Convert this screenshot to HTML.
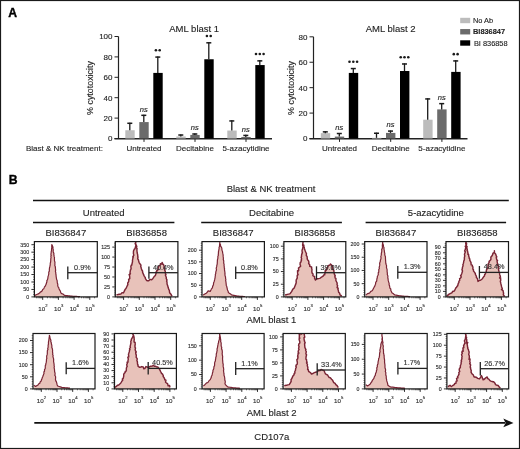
<!DOCTYPE html>
<html><head><meta charset="utf-8"><style>
html,body{margin:0;padding:0;background:#fff;}
svg text{stroke:#1a1a1a;stroke-width:0.12px;paint-order:stroke;}
svg text.sm{stroke-width:0.14px;}
svg text.bd{stroke-width:0.35px;stroke:#000;}
svg{display:block;will-change:transform;font-family:"Liberation Sans", sans-serif;}
</style></head><body>
<svg width="520" stroke-linecap="butt" height="449" viewBox="0 0 520 449">
<rect x="0" y="0" width="520" height="449" fill="#fff"/>
<text x="8.30" y="16.80" font-size="12.2" font-weight="bold" fill="#000" class="bd">A</text>
<line x1="118.50" y1="36.50" x2="118.50" y2="139.00" stroke="#222" stroke-width="1.2"/>
<line x1="114.50" y1="138.70" x2="272.00" y2="138.70" stroke="#222" stroke-width="1.4"/>
<line x1="114.50" y1="138.50" x2="118.50" y2="138.50" stroke="#222" stroke-width="1"/>
<text x="112.50" y="141.45" font-size="8.0" text-anchor="end" fill="#222">0</text>
<line x1="114.50" y1="118.10" x2="118.50" y2="118.10" stroke="#222" stroke-width="1"/>
<text x="112.50" y="121.05" font-size="8.0" text-anchor="end" fill="#222">20</text>
<line x1="114.50" y1="97.70" x2="118.50" y2="97.70" stroke="#222" stroke-width="1"/>
<text x="112.50" y="100.65" font-size="8.0" text-anchor="end" fill="#222">40</text>
<line x1="114.50" y1="77.30" x2="118.50" y2="77.30" stroke="#222" stroke-width="1"/>
<text x="112.50" y="80.25" font-size="8.0" text-anchor="end" fill="#222">60</text>
<line x1="114.50" y1="56.90" x2="118.50" y2="56.90" stroke="#222" stroke-width="1"/>
<text x="112.50" y="59.85" font-size="8.0" text-anchor="end" fill="#222">80</text>
<line x1="114.50" y1="36.50" x2="118.50" y2="36.50" stroke="#222" stroke-width="1"/>
<text x="112.50" y="39.45" font-size="8.0" text-anchor="end" fill="#222">100</text>
<line x1="144.00" y1="138.50" x2="144.00" y2="141.90" stroke="#222" stroke-width="1"/>
<text x="144.00" y="150.80" font-size="8" text-anchor="middle" fill="#222">Untreated</text>
<rect x="125.30" y="130.24" width="9.40" height="8.26" fill="#bcbcbc"/>
<line x1="129.80" y1="122.69" x2="129.80" y2="130.24" stroke="#1a1a1a" stroke-width="1.3"/>
<line x1="127.30" y1="123.29" x2="132.30" y2="123.29" stroke="#1a1a1a" stroke-width="1.5"/>
<rect x="139.30" y="122.08" width="9.40" height="16.42" fill="#6b6b6b"/>
<line x1="143.80" y1="114.73" x2="143.80" y2="122.08" stroke="#1a1a1a" stroke-width="1.3"/>
<line x1="141.30" y1="115.33" x2="146.30" y2="115.33" stroke="#1a1a1a" stroke-width="1.5"/>
<text x="143.80" y="111.53" font-size="7.5" text-anchor="middle" font-style="italic" fill="#222">ns</text>
<rect x="153.30" y="72.91" width="9.40" height="65.59" fill="#000"/>
<line x1="157.80" y1="56.49" x2="157.80" y2="72.91" stroke="#1a1a1a" stroke-width="1.3"/>
<line x1="155.30" y1="57.09" x2="160.30" y2="57.09" stroke="#1a1a1a" stroke-width="1.5"/>
<circle cx="155.90" cy="50.29" r="1.3" fill="#1a1a1a"/>
<circle cx="159.70" cy="50.29" r="1.3" fill="#1a1a1a"/>
<line x1="195.00" y1="138.50" x2="195.00" y2="141.90" stroke="#222" stroke-width="1"/>
<text x="195.00" y="150.80" font-size="8" text-anchor="middle" fill="#222">Decitabine</text>
<rect x="176.30" y="136.46" width="9.40" height="2.04" fill="#bcbcbc"/>
<line x1="180.80" y1="134.42" x2="180.80" y2="136.46" stroke="#1a1a1a" stroke-width="1.3"/>
<line x1="178.30" y1="135.02" x2="183.30" y2="135.02" stroke="#1a1a1a" stroke-width="1.5"/>
<rect x="190.30" y="134.93" width="9.40" height="3.57" fill="#6b6b6b"/>
<line x1="194.80" y1="133.40" x2="194.80" y2="134.93" stroke="#1a1a1a" stroke-width="1.3"/>
<line x1="192.30" y1="134.00" x2="197.30" y2="134.00" stroke="#1a1a1a" stroke-width="1.5"/>
<text x="194.80" y="130.20" font-size="7.5" text-anchor="middle" font-style="italic" fill="#222">ns</text>
<rect x="204.30" y="59.25" width="9.40" height="79.25" fill="#000"/>
<line x1="208.80" y1="42.21" x2="208.80" y2="59.25" stroke="#1a1a1a" stroke-width="1.3"/>
<line x1="206.30" y1="42.81" x2="211.30" y2="42.81" stroke="#1a1a1a" stroke-width="1.5"/>
<circle cx="206.90" cy="36.01" r="1.3" fill="#1a1a1a"/>
<circle cx="210.70" cy="36.01" r="1.3" fill="#1a1a1a"/>
<line x1="246.00" y1="138.50" x2="246.00" y2="141.90" stroke="#222" stroke-width="1"/>
<text x="246.00" y="150.80" font-size="8" text-anchor="middle" fill="#222">5-azacytidine</text>
<rect x="227.30" y="130.54" width="9.40" height="7.96" fill="#bcbcbc"/>
<line x1="231.80" y1="120.34" x2="231.80" y2="130.54" stroke="#1a1a1a" stroke-width="1.3"/>
<line x1="229.30" y1="120.94" x2="234.30" y2="120.94" stroke="#1a1a1a" stroke-width="1.5"/>
<rect x="241.30" y="136.97" width="9.40" height="1.53" fill="#6b6b6b"/>
<line x1="245.80" y1="134.83" x2="245.80" y2="136.97" stroke="#1a1a1a" stroke-width="1.3"/>
<line x1="243.30" y1="135.43" x2="248.30" y2="135.43" stroke="#1a1a1a" stroke-width="1.5"/>
<text x="245.80" y="131.63" font-size="7.5" text-anchor="middle" font-style="italic" fill="#222">ns</text>
<rect x="255.30" y="65.06" width="9.40" height="73.44" fill="#000"/>
<line x1="259.80" y1="60.27" x2="259.80" y2="65.06" stroke="#1a1a1a" stroke-width="1.3"/>
<line x1="257.30" y1="60.87" x2="262.30" y2="60.87" stroke="#1a1a1a" stroke-width="1.5"/>
<circle cx="256.00" cy="54.07" r="1.3" fill="#1a1a1a"/>
<circle cx="259.80" cy="54.07" r="1.3" fill="#1a1a1a"/>
<circle cx="263.60" cy="54.07" r="1.3" fill="#1a1a1a"/>
<text x="194.20" y="32.00" font-size="9.5" text-anchor="middle" fill="#222">AML blast 1</text>
<text transform="translate(93.3,88) rotate(-90)" font-size="8.9" text-anchor="middle" fill="#222">% cytotoxicity</text>
<line x1="313.50" y1="36.82" x2="313.50" y2="139.00" stroke="#222" stroke-width="1.2"/>
<line x1="309.50" y1="138.70" x2="467.50" y2="138.70" stroke="#222" stroke-width="1.4"/>
<line x1="309.50" y1="138.50" x2="313.50" y2="138.50" stroke="#222" stroke-width="1"/>
<text x="307.50" y="141.45" font-size="8.0" text-anchor="end" fill="#222">0</text>
<line x1="309.50" y1="113.08" x2="313.50" y2="113.08" stroke="#222" stroke-width="1"/>
<text x="307.50" y="116.03" font-size="8.0" text-anchor="end" fill="#222">20</text>
<line x1="309.50" y1="87.66" x2="313.50" y2="87.66" stroke="#222" stroke-width="1"/>
<text x="307.50" y="90.61" font-size="8.0" text-anchor="end" fill="#222">40</text>
<line x1="309.50" y1="62.24" x2="313.50" y2="62.24" stroke="#222" stroke-width="1"/>
<text x="307.50" y="65.19" font-size="8.0" text-anchor="end" fill="#222">60</text>
<line x1="309.50" y1="36.82" x2="313.50" y2="36.82" stroke="#222" stroke-width="1"/>
<text x="307.50" y="39.77" font-size="8.0" text-anchor="end" fill="#222">80</text>
<line x1="339.50" y1="138.50" x2="339.50" y2="141.90" stroke="#222" stroke-width="1"/>
<text x="339.50" y="150.80" font-size="8" text-anchor="middle" fill="#222">Untreated</text>
<rect x="320.80" y="133.16" width="9.40" height="5.34" fill="#bcbcbc"/>
<line x1="325.30" y1="131.26" x2="325.30" y2="133.16" stroke="#1a1a1a" stroke-width="1.3"/>
<line x1="322.80" y1="131.86" x2="327.80" y2="131.86" stroke="#1a1a1a" stroke-width="1.5"/>
<rect x="334.80" y="136.59" width="9.40" height="1.91" fill="#6b6b6b"/>
<line x1="339.30" y1="132.91" x2="339.30" y2="136.59" stroke="#1a1a1a" stroke-width="1.3"/>
<line x1="336.80" y1="133.51" x2="341.80" y2="133.51" stroke="#1a1a1a" stroke-width="1.5"/>
<text x="339.30" y="129.71" font-size="7.5" text-anchor="middle" font-style="italic" fill="#222">ns</text>
<rect x="348.80" y="72.92" width="9.40" height="65.58" fill="#000"/>
<line x1="353.30" y1="67.96" x2="353.30" y2="72.92" stroke="#1a1a1a" stroke-width="1.3"/>
<line x1="350.80" y1="68.56" x2="355.80" y2="68.56" stroke="#1a1a1a" stroke-width="1.5"/>
<circle cx="349.50" cy="61.76" r="1.3" fill="#1a1a1a"/>
<circle cx="353.30" cy="61.76" r="1.3" fill="#1a1a1a"/>
<circle cx="357.10" cy="61.76" r="1.3" fill="#1a1a1a"/>
<line x1="390.70" y1="138.50" x2="390.70" y2="141.90" stroke="#222" stroke-width="1"/>
<text x="390.70" y="150.80" font-size="8" text-anchor="middle" fill="#222">Decitabine</text>
<rect x="372.00" y="137.86" width="9.40" height="0.64" fill="#bcbcbc"/>
<line x1="376.50" y1="132.65" x2="376.50" y2="137.86" stroke="#1a1a1a" stroke-width="1.3"/>
<line x1="374.00" y1="133.25" x2="379.00" y2="133.25" stroke="#1a1a1a" stroke-width="1.5"/>
<rect x="386.00" y="132.91" width="9.40" height="5.59" fill="#6b6b6b"/>
<line x1="390.50" y1="130.49" x2="390.50" y2="132.91" stroke="#1a1a1a" stroke-width="1.3"/>
<line x1="388.00" y1="131.09" x2="393.00" y2="131.09" stroke="#1a1a1a" stroke-width="1.5"/>
<text x="390.50" y="127.29" font-size="7.5" text-anchor="middle" font-style="italic" fill="#222">ns</text>
<rect x="400.00" y="71.01" width="9.40" height="67.49" fill="#000"/>
<line x1="404.50" y1="63.38" x2="404.50" y2="71.01" stroke="#1a1a1a" stroke-width="1.3"/>
<line x1="402.00" y1="63.98" x2="407.00" y2="63.98" stroke="#1a1a1a" stroke-width="1.5"/>
<circle cx="400.70" cy="57.18" r="1.3" fill="#1a1a1a"/>
<circle cx="404.50" cy="57.18" r="1.3" fill="#1a1a1a"/>
<circle cx="408.30" cy="57.18" r="1.3" fill="#1a1a1a"/>
<line x1="441.90" y1="138.50" x2="441.90" y2="141.90" stroke="#222" stroke-width="1"/>
<text x="441.90" y="150.80" font-size="8" text-anchor="middle" fill="#222">5-azacytidine</text>
<rect x="423.20" y="119.69" width="9.40" height="18.81" fill="#bcbcbc"/>
<line x1="427.70" y1="98.34" x2="427.70" y2="119.69" stroke="#1a1a1a" stroke-width="1.3"/>
<line x1="425.20" y1="98.94" x2="430.20" y2="98.94" stroke="#1a1a1a" stroke-width="1.5"/>
<rect x="437.20" y="109.39" width="9.40" height="29.11" fill="#6b6b6b"/>
<line x1="441.70" y1="103.04" x2="441.70" y2="109.39" stroke="#1a1a1a" stroke-width="1.3"/>
<line x1="439.20" y1="103.64" x2="444.20" y2="103.64" stroke="#1a1a1a" stroke-width="1.5"/>
<text x="441.70" y="99.84" font-size="7.5" text-anchor="middle" font-style="italic" fill="#222">ns</text>
<rect x="451.20" y="71.90" width="9.40" height="66.60" fill="#000"/>
<line x1="455.70" y1="60.33" x2="455.70" y2="71.90" stroke="#1a1a1a" stroke-width="1.3"/>
<line x1="453.20" y1="60.93" x2="458.20" y2="60.93" stroke="#1a1a1a" stroke-width="1.5"/>
<circle cx="453.80" cy="54.13" r="1.3" fill="#1a1a1a"/>
<circle cx="457.60" cy="54.13" r="1.3" fill="#1a1a1a"/>
<text x="390.60" y="32.00" font-size="9.5" text-anchor="middle" fill="#222">AML blast 2</text>
<text transform="translate(293.8,88) rotate(-90)" font-size="8.9" text-anchor="middle" fill="#222">% cytotoxicity</text>
<text x="26.00" y="151.30" font-size="8" fill="#222">Blast &amp; NK treatment:</text>
<rect x="460.20" y="17.80" width="10.00" height="5.40" fill="#bcbcbc"/>
<text x="473.00" y="23.20" font-size="7.4" fill="#222">No Ab</text>
<rect x="460.20" y="29.05" width="10.00" height="5.40" fill="#6b6b6b"/>
<text x="473.00" y="34.45" font-size="7.4" font-weight="bold" fill="#222">BI836847</text>
<rect x="460.20" y="40.30" width="10.00" height="5.40" fill="#000"/>
<text x="473.90" y="45.70" font-size="7.4" fill="#222">BI 836858</text>
<text x="8.80" y="183.80" font-size="12.2" font-weight="bold" fill="#000" class="bd">B</text>
<text x="271.00" y="191.70" font-size="9.5" text-anchor="middle" fill="#222">Blast &amp; NK treatment</text>
<line x1="33.00" y1="200.60" x2="508.80" y2="200.60" stroke="#111" stroke-width="1.5"/>
<line x1="33.00" y1="222.60" x2="174.40" y2="222.60" stroke="#111" stroke-width="1.5"/>
<text x="103.70" y="216.00" font-size="9.5" text-anchor="middle" fill="#222">Untreated</text>
<line x1="201.20" y1="222.60" x2="341.90" y2="222.60" stroke="#111" stroke-width="1.5"/>
<text x="271.55" y="216.00" font-size="9.5" text-anchor="middle" fill="#222">Decitabine</text>
<line x1="365.60" y1="222.60" x2="506.10" y2="222.60" stroke="#111" stroke-width="1.5"/>
<text x="435.85" y="216.00" font-size="9.5" text-anchor="middle" fill="#222">5-azacytidine</text>
<clipPath id="c0"><rect x="34.40" y="241.60" width="62.90" height="55.30"/></clipPath>
<path d="M34.90,296.90 L34.90,295.40 L36.20,294.80 L37.36,294.24 L38.80,293.60 L39.58,292.99 L40.57,291.81 L41.09,291.80 L42.20,290.80 L42.64,289.60 L43.61,288.86 L44.10,287.91 L44.56,286.66 L45.13,286.35 L45.64,285.27 L46.20,284.10 L46.55,282.64 L46.86,282.04 L46.87,280.47 L47.44,279.80 L47.62,279.09 L47.88,278.06 L47.96,276.88 L48.25,275.93 L48.74,274.11 L48.80,273.40 L48.76,272.01 L49.36,271.08 L49.33,269.83 L49.42,268.77 L49.49,267.82 L49.77,266.98 L49.98,265.87 L50.22,264.80 L50.28,262.92 L50.53,262.51 L50.71,261.02 L50.76,259.57 L50.80,258.70 L51.06,257.60 L50.85,255.97 L51.24,255.64 L50.91,254.30 L51.17,252.55 L51.19,251.94 L51.58,250.12 L51.53,248.96 L51.67,248.05 L51.84,247.47 L51.72,246.32 L51.80,244.70 L52.20,245.32 L52.80,246.70 L53.00,247.37 L52.93,248.80 L53.30,249.66 L53.13,251.39 L53.43,252.57 L53.89,253.14 L53.80,254.35 L54.04,255.51 L54.14,256.63 L54.49,257.62 L54.40,258.70 L54.48,260.06 L54.48,260.84 L55.00,262.20 L54.88,262.90 L54.92,264.57 L54.82,265.76 L55.26,266.42 L55.38,267.95 L55.52,269.01 L55.65,270.51 L55.39,271.06 L55.86,273.04 L55.74,273.74 L56.04,274.78 L56.10,276.10 L56.25,277.12 L56.47,278.56 L56.66,279.56 L57.14,280.43 L57.25,282.26 L57.33,282.98 L57.82,284.19 L57.71,285.55 L58.10,286.80 L58.75,287.64 L59.08,289.05 L59.90,290.34 L60.45,291.30 L60.80,292.80 L61.69,293.59 L62.96,294.06 L63.73,294.75 L64.70,295.40 L65.90,295.54 L67.10,295.68 L68.30,295.82 L69.50,295.96 L70.70,296.10 L71.86,296.16 L73.03,296.23 L74.19,296.29 L75.35,296.35 L76.51,296.41 L77.67,296.48 L78.84,296.54 L80.00,296.60 L80.00,296.90 Z" fill="#e8c2ba" clip-path="url(#c0)"/>
<path d="M34.90,295.40 L36.20,294.80 L37.36,294.24 L38.80,293.60 L39.58,292.99 L40.57,291.81 L41.09,291.80 L42.20,290.80 L42.64,289.60 L43.61,288.86 L44.10,287.91 L44.56,286.66 L45.13,286.35 L45.64,285.27 L46.20,284.10 L46.55,282.64 L46.86,282.04 L46.87,280.47 L47.44,279.80 L47.62,279.09 L47.88,278.06 L47.96,276.88 L48.25,275.93 L48.74,274.11 L48.80,273.40 L48.76,272.01 L49.36,271.08 L49.33,269.83 L49.42,268.77 L49.49,267.82 L49.77,266.98 L49.98,265.87 L50.22,264.80 L50.28,262.92 L50.53,262.51 L50.71,261.02 L50.76,259.57 L50.80,258.70 L51.06,257.60 L50.85,255.97 L51.24,255.64 L50.91,254.30 L51.17,252.55 L51.19,251.94 L51.58,250.12 L51.53,248.96 L51.67,248.05 L51.84,247.47 L51.72,246.32 L51.80,244.70 L52.20,245.32 L52.80,246.70 L53.00,247.37 L52.93,248.80 L53.30,249.66 L53.13,251.39 L53.43,252.57 L53.89,253.14 L53.80,254.35 L54.04,255.51 L54.14,256.63 L54.49,257.62 L54.40,258.70 L54.48,260.06 L54.48,260.84 L55.00,262.20 L54.88,262.90 L54.92,264.57 L54.82,265.76 L55.26,266.42 L55.38,267.95 L55.52,269.01 L55.65,270.51 L55.39,271.06 L55.86,273.04 L55.74,273.74 L56.04,274.78 L56.10,276.10 L56.25,277.12 L56.47,278.56 L56.66,279.56 L57.14,280.43 L57.25,282.26 L57.33,282.98 L57.82,284.19 L57.71,285.55 L58.10,286.80 L58.75,287.64 L59.08,289.05 L59.90,290.34 L60.45,291.30 L60.80,292.80 L61.69,293.59 L62.96,294.06 L63.73,294.75 L64.70,295.40 L65.90,295.54 L67.10,295.68 L68.30,295.82 L69.50,295.96 L70.70,296.10 L71.86,296.16 L73.03,296.23 L74.19,296.29 L75.35,296.35 L76.51,296.41 L77.67,296.48 L78.84,296.54 L80.00,296.60" fill="none" stroke="#7a2535" stroke-width="1.2" stroke-linejoin="round" clip-path="url(#c0)"/>
<rect x="34.40" y="241.60" width="62.90" height="55.30" fill="none" stroke="#1a1a1a" stroke-width="1.2"/>
<line x1="31.40" y1="244.70" x2="34.40" y2="244.70" stroke="#1a1a1a" stroke-width="0.9"/>
<text x="29.10" y="246.55" font-size="5.3" text-anchor="end" fill="#333" class="sm">350</text>
<line x1="31.40" y1="252.16" x2="34.40" y2="252.16" stroke="#1a1a1a" stroke-width="0.9"/>
<text x="29.10" y="254.01" font-size="5.3" text-anchor="end" fill="#333" class="sm">300</text>
<line x1="31.40" y1="259.61" x2="34.40" y2="259.61" stroke="#1a1a1a" stroke-width="0.9"/>
<text x="29.10" y="261.46" font-size="5.3" text-anchor="end" fill="#333" class="sm">250</text>
<line x1="31.40" y1="267.07" x2="34.40" y2="267.07" stroke="#1a1a1a" stroke-width="0.9"/>
<text x="29.10" y="268.92" font-size="5.3" text-anchor="end" fill="#333" class="sm">200</text>
<line x1="31.40" y1="274.53" x2="34.40" y2="274.53" stroke="#1a1a1a" stroke-width="0.9"/>
<text x="29.10" y="276.38" font-size="5.3" text-anchor="end" fill="#333" class="sm">150</text>
<line x1="31.40" y1="281.99" x2="34.40" y2="281.99" stroke="#1a1a1a" stroke-width="0.9"/>
<text x="29.10" y="283.84" font-size="5.3" text-anchor="end" fill="#333" class="sm">100</text>
<line x1="31.40" y1="289.44" x2="34.40" y2="289.44" stroke="#1a1a1a" stroke-width="0.9"/>
<text x="29.10" y="291.29" font-size="5.3" text-anchor="end" fill="#333" class="sm">50</text>
<line x1="31.40" y1="296.90" x2="34.40" y2="296.90" stroke="#1a1a1a" stroke-width="0.9"/>
<text x="29.10" y="298.75" font-size="5.3" text-anchor="end" fill="#333" class="sm">0</text>
<line x1="33.10" y1="294.41" x2="34.40" y2="294.41" stroke="#1a1a1a" stroke-width="0.6"/>
<line x1="33.10" y1="291.93" x2="34.40" y2="291.93" stroke="#1a1a1a" stroke-width="0.6"/>
<line x1="33.10" y1="286.96" x2="34.40" y2="286.96" stroke="#1a1a1a" stroke-width="0.6"/>
<line x1="33.10" y1="284.47" x2="34.40" y2="284.47" stroke="#1a1a1a" stroke-width="0.6"/>
<line x1="33.10" y1="279.50" x2="34.40" y2="279.50" stroke="#1a1a1a" stroke-width="0.6"/>
<line x1="33.10" y1="277.01" x2="34.40" y2="277.01" stroke="#1a1a1a" stroke-width="0.6"/>
<line x1="33.10" y1="272.04" x2="34.40" y2="272.04" stroke="#1a1a1a" stroke-width="0.6"/>
<line x1="33.10" y1="269.56" x2="34.40" y2="269.56" stroke="#1a1a1a" stroke-width="0.6"/>
<line x1="33.10" y1="264.59" x2="34.40" y2="264.59" stroke="#1a1a1a" stroke-width="0.6"/>
<line x1="33.10" y1="262.10" x2="34.40" y2="262.10" stroke="#1a1a1a" stroke-width="0.6"/>
<line x1="33.10" y1="257.13" x2="34.40" y2="257.13" stroke="#1a1a1a" stroke-width="0.6"/>
<line x1="33.10" y1="254.64" x2="34.40" y2="254.64" stroke="#1a1a1a" stroke-width="0.6"/>
<line x1="33.10" y1="249.67" x2="34.40" y2="249.67" stroke="#1a1a1a" stroke-width="0.6"/>
<line x1="33.10" y1="247.19" x2="34.40" y2="247.19" stroke="#1a1a1a" stroke-width="0.6"/>
<line x1="42.70" y1="296.90" x2="42.70" y2="299.90" stroke="#1a1a1a" stroke-width="0.9"/>
<line x1="47.43" y1="296.90" x2="47.43" y2="298.30" stroke="#1a1a1a" stroke-width="0.6"/>
<line x1="50.19" y1="296.90" x2="50.19" y2="298.30" stroke="#1a1a1a" stroke-width="0.6"/>
<line x1="52.15" y1="296.90" x2="52.15" y2="298.30" stroke="#1a1a1a" stroke-width="0.6"/>
<line x1="53.67" y1="296.90" x2="53.67" y2="298.30" stroke="#1a1a1a" stroke-width="0.6"/>
<line x1="54.92" y1="296.90" x2="54.92" y2="298.30" stroke="#1a1a1a" stroke-width="0.6"/>
<line x1="55.97" y1="296.90" x2="55.97" y2="298.30" stroke="#1a1a1a" stroke-width="0.6"/>
<line x1="56.88" y1="296.90" x2="56.88" y2="298.30" stroke="#1a1a1a" stroke-width="0.6"/>
<line x1="57.68" y1="296.90" x2="57.68" y2="298.30" stroke="#1a1a1a" stroke-width="0.6"/>
<text x="41.70" y="310.50" font-size="6.2" text-anchor="middle" fill="#333" class="sm">10</text>
<text x="45.20" y="307.30" font-size="4.2" fill="#333" class="sm">2</text>
<line x1="58.40" y1="296.90" x2="58.40" y2="299.90" stroke="#1a1a1a" stroke-width="0.9"/>
<line x1="63.13" y1="296.90" x2="63.13" y2="298.30" stroke="#1a1a1a" stroke-width="0.6"/>
<line x1="65.89" y1="296.90" x2="65.89" y2="298.30" stroke="#1a1a1a" stroke-width="0.6"/>
<line x1="67.85" y1="296.90" x2="67.85" y2="298.30" stroke="#1a1a1a" stroke-width="0.6"/>
<line x1="69.37" y1="296.90" x2="69.37" y2="298.30" stroke="#1a1a1a" stroke-width="0.6"/>
<line x1="70.62" y1="296.90" x2="70.62" y2="298.30" stroke="#1a1a1a" stroke-width="0.6"/>
<line x1="71.67" y1="296.90" x2="71.67" y2="298.30" stroke="#1a1a1a" stroke-width="0.6"/>
<line x1="72.58" y1="296.90" x2="72.58" y2="298.30" stroke="#1a1a1a" stroke-width="0.6"/>
<line x1="73.38" y1="296.90" x2="73.38" y2="298.30" stroke="#1a1a1a" stroke-width="0.6"/>
<text x="57.40" y="310.50" font-size="6.2" text-anchor="middle" fill="#333" class="sm">10</text>
<text x="60.90" y="307.30" font-size="4.2" fill="#333" class="sm">3</text>
<line x1="74.10" y1="296.90" x2="74.10" y2="299.90" stroke="#1a1a1a" stroke-width="0.9"/>
<line x1="78.83" y1="296.90" x2="78.83" y2="298.30" stroke="#1a1a1a" stroke-width="0.6"/>
<line x1="81.59" y1="296.90" x2="81.59" y2="298.30" stroke="#1a1a1a" stroke-width="0.6"/>
<line x1="83.55" y1="296.90" x2="83.55" y2="298.30" stroke="#1a1a1a" stroke-width="0.6"/>
<line x1="85.07" y1="296.90" x2="85.07" y2="298.30" stroke="#1a1a1a" stroke-width="0.6"/>
<line x1="86.32" y1="296.90" x2="86.32" y2="298.30" stroke="#1a1a1a" stroke-width="0.6"/>
<line x1="87.37" y1="296.90" x2="87.37" y2="298.30" stroke="#1a1a1a" stroke-width="0.6"/>
<line x1="88.28" y1="296.90" x2="88.28" y2="298.30" stroke="#1a1a1a" stroke-width="0.6"/>
<line x1="89.08" y1="296.90" x2="89.08" y2="298.30" stroke="#1a1a1a" stroke-width="0.6"/>
<text x="73.10" y="310.50" font-size="6.2" text-anchor="middle" fill="#333" class="sm">10</text>
<text x="76.60" y="307.30" font-size="4.2" fill="#333" class="sm">4</text>
<line x1="89.80" y1="296.90" x2="89.80" y2="299.90" stroke="#1a1a1a" stroke-width="0.9"/>
<line x1="94.53" y1="296.90" x2="94.53" y2="298.30" stroke="#1a1a1a" stroke-width="0.6"/>
<text x="88.80" y="310.50" font-size="6.2" text-anchor="middle" fill="#333" class="sm">10</text>
<text x="92.30" y="307.30" font-size="4.2" fill="#333" class="sm">5</text>
<line x1="36.45" y1="296.90" x2="36.45" y2="298.30" stroke="#1a1a1a" stroke-width="0.6"/>
<line x1="37.97" y1="296.90" x2="37.97" y2="298.30" stroke="#1a1a1a" stroke-width="0.6"/>
<line x1="39.22" y1="296.90" x2="39.22" y2="298.30" stroke="#1a1a1a" stroke-width="0.6"/>
<line x1="40.27" y1="296.90" x2="40.27" y2="298.30" stroke="#1a1a1a" stroke-width="0.6"/>
<line x1="41.18" y1="296.90" x2="41.18" y2="298.30" stroke="#1a1a1a" stroke-width="0.6"/>
<line x1="41.98" y1="296.90" x2="41.98" y2="298.30" stroke="#1a1a1a" stroke-width="0.6"/>
<line x1="67.80" y1="266.60" x2="67.80" y2="279.20" stroke="#222" stroke-width="1.3"/>
<line x1="67.80" y1="272.70" x2="97.30" y2="272.70" stroke="#222" stroke-width="1.3"/>
<text x="74.10" y="269.50" font-size="7.3" fill="#333">0.9%</text>
<clipPath id="c1"><rect x="115.30" y="241.60" width="62.60" height="55.30"/></clipPath>
<path d="M116.50,296.90 L116.50,294.80 L117.93,294.57 L119.45,294.20 L120.80,294.10 L122.02,292.64 L123.42,292.91 L124.20,291.40 L125.02,289.60 L125.52,288.77 L125.86,288.81 L126.80,286.80 L127.70,284.82 L127.88,284.76 L127.67,283.04 L128.33,282.25 L128.68,281.52 L128.80,280.10 L128.60,279.42 L129.79,278.61 L129.60,275.67 L129.12,274.65 L130.41,273.78 L129.98,273.72 L130.14,271.87 L130.50,269.76 L130.80,269.40 L131.12,268.86 L130.85,266.50 L131.37,264.95 L131.69,265.25 L132.09,263.52 L132.54,261.60 L132.43,260.84 L132.69,259.15 L132.80,258.70 L133.29,256.77 L132.77,256.96 L133.84,255.09 L133.40,253.57 L133.42,253.11 L133.48,251.00 L133.97,249.93 L134.20,249.40 L135.02,248.66 L135.50,246.70 L135.89,245.49 L135.48,244.23 L135.16,243.58 L135.80,242.00 L135.75,242.77 L135.61,244.12 L136.33,245.13 L136.80,246.77 L136.23,247.60 L137.13,248.70 L136.93,248.95 L136.94,250.82 L137.10,252.00 L137.19,252.99 L137.60,254.36 L137.69,254.79 L137.83,257.46 L138.00,256.83 L137.73,258.92 L138.50,260.00 L138.52,260.56 L139.12,262.58 L140.10,264.00 L140.99,265.15 L140.70,266.23 L141.08,267.42 L141.40,268.70 L142.06,270.54 L142.43,270.71 L142.77,272.72 L142.61,272.52 L143.40,274.10 L144.04,275.61 L144.56,276.57 L145.28,277.51 L145.40,278.70 L146.75,280.58 L147.40,280.70 L148.68,280.73 L150.10,279.40 L151.65,279.79 L152.70,278.70 L153.08,278.18 L154.50,276.10 L155.34,275.65 L156.12,273.03 L156.10,272.10 L156.96,270.29 L157.54,270.63 L158.10,268.70 L158.42,267.31 L158.95,265.92 L160.10,265.40 L160.43,263.63 L162.00,264.14 L162.10,262.40 L162.81,264.01 L163.60,264.70 L164.08,265.94 L164.03,267.41 L164.44,267.86 L164.49,269.74 L164.90,270.70 L165.28,271.26 L165.49,273.65 L166.02,274.34 L165.34,275.02 L165.60,275.44 L166.30,277.40 L166.21,278.46 L166.97,279.93 L166.61,281.20 L167.05,281.99 L166.96,283.00 L167.23,284.69 L167.60,285.40 L167.91,286.53 L168.24,287.83 L168.82,289.52 L169.28,290.15 L169.60,292.45 L169.60,292.80 L170.99,294.32 L171.27,295.00 L172.10,296.10 L172.10,296.90 Z" fill="#e8c2ba" clip-path="url(#c1)"/>
<path d="M116.50,294.80 L117.93,294.57 L119.45,294.20 L120.80,294.10 L122.02,292.64 L123.42,292.91 L124.20,291.40 L125.02,289.60 L125.52,288.77 L125.86,288.81 L126.80,286.80 L127.70,284.82 L127.88,284.76 L127.67,283.04 L128.33,282.25 L128.68,281.52 L128.80,280.10 L128.60,279.42 L129.79,278.61 L129.60,275.67 L129.12,274.65 L130.41,273.78 L129.98,273.72 L130.14,271.87 L130.50,269.76 L130.80,269.40 L131.12,268.86 L130.85,266.50 L131.37,264.95 L131.69,265.25 L132.09,263.52 L132.54,261.60 L132.43,260.84 L132.69,259.15 L132.80,258.70 L133.29,256.77 L132.77,256.96 L133.84,255.09 L133.40,253.57 L133.42,253.11 L133.48,251.00 L133.97,249.93 L134.20,249.40 L135.02,248.66 L135.50,246.70 L135.89,245.49 L135.48,244.23 L135.16,243.58 L135.80,242.00 L135.75,242.77 L135.61,244.12 L136.33,245.13 L136.80,246.77 L136.23,247.60 L137.13,248.70 L136.93,248.95 L136.94,250.82 L137.10,252.00 L137.19,252.99 L137.60,254.36 L137.69,254.79 L137.83,257.46 L138.00,256.83 L137.73,258.92 L138.50,260.00 L138.52,260.56 L139.12,262.58 L140.10,264.00 L140.99,265.15 L140.70,266.23 L141.08,267.42 L141.40,268.70 L142.06,270.54 L142.43,270.71 L142.77,272.72 L142.61,272.52 L143.40,274.10 L144.04,275.61 L144.56,276.57 L145.28,277.51 L145.40,278.70 L146.75,280.58 L147.40,280.70 L148.68,280.73 L150.10,279.40 L151.65,279.79 L152.70,278.70 L153.08,278.18 L154.50,276.10 L155.34,275.65 L156.12,273.03 L156.10,272.10 L156.96,270.29 L157.54,270.63 L158.10,268.70 L158.42,267.31 L158.95,265.92 L160.10,265.40 L160.43,263.63 L162.00,264.14 L162.10,262.40 L162.81,264.01 L163.60,264.70 L164.08,265.94 L164.03,267.41 L164.44,267.86 L164.49,269.74 L164.90,270.70 L165.28,271.26 L165.49,273.65 L166.02,274.34 L165.34,275.02 L165.60,275.44 L166.30,277.40 L166.21,278.46 L166.97,279.93 L166.61,281.20 L167.05,281.99 L166.96,283.00 L167.23,284.69 L167.60,285.40 L167.91,286.53 L168.24,287.83 L168.82,289.52 L169.28,290.15 L169.60,292.45 L169.60,292.80 L170.99,294.32 L171.27,295.00 L172.10,296.10" fill="none" stroke="#7a2535" stroke-width="1.45" stroke-linejoin="round" clip-path="url(#c1)"/>
<rect x="115.30" y="241.60" width="62.60" height="55.30" fill="none" stroke="#1a1a1a" stroke-width="1.2"/>
<line x1="112.30" y1="247.10" x2="115.30" y2="247.10" stroke="#1a1a1a" stroke-width="0.9"/>
<text x="110.00" y="248.95" font-size="5.3" text-anchor="end" fill="#333" class="sm">125</text>
<line x1="112.30" y1="257.06" x2="115.30" y2="257.06" stroke="#1a1a1a" stroke-width="0.9"/>
<text x="110.00" y="258.91" font-size="5.3" text-anchor="end" fill="#333" class="sm">100</text>
<line x1="112.30" y1="267.02" x2="115.30" y2="267.02" stroke="#1a1a1a" stroke-width="0.9"/>
<text x="110.00" y="268.87" font-size="5.3" text-anchor="end" fill="#333" class="sm">75</text>
<line x1="112.30" y1="276.98" x2="115.30" y2="276.98" stroke="#1a1a1a" stroke-width="0.9"/>
<text x="110.00" y="278.83" font-size="5.3" text-anchor="end" fill="#333" class="sm">50</text>
<line x1="112.30" y1="286.94" x2="115.30" y2="286.94" stroke="#1a1a1a" stroke-width="0.9"/>
<text x="110.00" y="288.79" font-size="5.3" text-anchor="end" fill="#333" class="sm">25</text>
<line x1="112.30" y1="296.90" x2="115.30" y2="296.90" stroke="#1a1a1a" stroke-width="0.9"/>
<text x="110.00" y="298.75" font-size="5.3" text-anchor="end" fill="#333" class="sm">0</text>
<line x1="114.00" y1="294.91" x2="115.30" y2="294.91" stroke="#1a1a1a" stroke-width="0.6"/>
<line x1="114.00" y1="292.92" x2="115.30" y2="292.92" stroke="#1a1a1a" stroke-width="0.6"/>
<line x1="114.00" y1="290.92" x2="115.30" y2="290.92" stroke="#1a1a1a" stroke-width="0.6"/>
<line x1="114.00" y1="288.93" x2="115.30" y2="288.93" stroke="#1a1a1a" stroke-width="0.6"/>
<line x1="114.00" y1="284.95" x2="115.30" y2="284.95" stroke="#1a1a1a" stroke-width="0.6"/>
<line x1="114.00" y1="282.96" x2="115.30" y2="282.96" stroke="#1a1a1a" stroke-width="0.6"/>
<line x1="114.00" y1="280.96" x2="115.30" y2="280.96" stroke="#1a1a1a" stroke-width="0.6"/>
<line x1="114.00" y1="278.97" x2="115.30" y2="278.97" stroke="#1a1a1a" stroke-width="0.6"/>
<line x1="114.00" y1="274.99" x2="115.30" y2="274.99" stroke="#1a1a1a" stroke-width="0.6"/>
<line x1="114.00" y1="273.00" x2="115.30" y2="273.00" stroke="#1a1a1a" stroke-width="0.6"/>
<line x1="114.00" y1="271.00" x2="115.30" y2="271.00" stroke="#1a1a1a" stroke-width="0.6"/>
<line x1="114.00" y1="269.01" x2="115.30" y2="269.01" stroke="#1a1a1a" stroke-width="0.6"/>
<line x1="114.00" y1="265.03" x2="115.30" y2="265.03" stroke="#1a1a1a" stroke-width="0.6"/>
<line x1="114.00" y1="263.04" x2="115.30" y2="263.04" stroke="#1a1a1a" stroke-width="0.6"/>
<line x1="114.00" y1="261.04" x2="115.30" y2="261.04" stroke="#1a1a1a" stroke-width="0.6"/>
<line x1="114.00" y1="259.05" x2="115.30" y2="259.05" stroke="#1a1a1a" stroke-width="0.6"/>
<line x1="114.00" y1="255.07" x2="115.30" y2="255.07" stroke="#1a1a1a" stroke-width="0.6"/>
<line x1="114.00" y1="253.08" x2="115.30" y2="253.08" stroke="#1a1a1a" stroke-width="0.6"/>
<line x1="114.00" y1="251.08" x2="115.30" y2="251.08" stroke="#1a1a1a" stroke-width="0.6"/>
<line x1="114.00" y1="249.09" x2="115.30" y2="249.09" stroke="#1a1a1a" stroke-width="0.6"/>
<line x1="114.00" y1="245.11" x2="115.30" y2="245.11" stroke="#1a1a1a" stroke-width="0.6"/>
<line x1="114.00" y1="243.12" x2="115.30" y2="243.12" stroke="#1a1a1a" stroke-width="0.6"/>
<line x1="123.60" y1="296.90" x2="123.60" y2="299.90" stroke="#1a1a1a" stroke-width="0.9"/>
<line x1="128.33" y1="296.90" x2="128.33" y2="298.30" stroke="#1a1a1a" stroke-width="0.6"/>
<line x1="131.09" y1="296.90" x2="131.09" y2="298.30" stroke="#1a1a1a" stroke-width="0.6"/>
<line x1="133.05" y1="296.90" x2="133.05" y2="298.30" stroke="#1a1a1a" stroke-width="0.6"/>
<line x1="134.57" y1="296.90" x2="134.57" y2="298.30" stroke="#1a1a1a" stroke-width="0.6"/>
<line x1="135.82" y1="296.90" x2="135.82" y2="298.30" stroke="#1a1a1a" stroke-width="0.6"/>
<line x1="136.87" y1="296.90" x2="136.87" y2="298.30" stroke="#1a1a1a" stroke-width="0.6"/>
<line x1="137.78" y1="296.90" x2="137.78" y2="298.30" stroke="#1a1a1a" stroke-width="0.6"/>
<line x1="138.58" y1="296.90" x2="138.58" y2="298.30" stroke="#1a1a1a" stroke-width="0.6"/>
<text x="122.60" y="310.50" font-size="6.2" text-anchor="middle" fill="#333" class="sm">10</text>
<text x="126.10" y="307.30" font-size="4.2" fill="#333" class="sm">2</text>
<line x1="139.30" y1="296.90" x2="139.30" y2="299.90" stroke="#1a1a1a" stroke-width="0.9"/>
<line x1="144.03" y1="296.90" x2="144.03" y2="298.30" stroke="#1a1a1a" stroke-width="0.6"/>
<line x1="146.79" y1="296.90" x2="146.79" y2="298.30" stroke="#1a1a1a" stroke-width="0.6"/>
<line x1="148.75" y1="296.90" x2="148.75" y2="298.30" stroke="#1a1a1a" stroke-width="0.6"/>
<line x1="150.27" y1="296.90" x2="150.27" y2="298.30" stroke="#1a1a1a" stroke-width="0.6"/>
<line x1="151.52" y1="296.90" x2="151.52" y2="298.30" stroke="#1a1a1a" stroke-width="0.6"/>
<line x1="152.57" y1="296.90" x2="152.57" y2="298.30" stroke="#1a1a1a" stroke-width="0.6"/>
<line x1="153.48" y1="296.90" x2="153.48" y2="298.30" stroke="#1a1a1a" stroke-width="0.6"/>
<line x1="154.28" y1="296.90" x2="154.28" y2="298.30" stroke="#1a1a1a" stroke-width="0.6"/>
<text x="138.30" y="310.50" font-size="6.2" text-anchor="middle" fill="#333" class="sm">10</text>
<text x="141.80" y="307.30" font-size="4.2" fill="#333" class="sm">3</text>
<line x1="155.00" y1="296.90" x2="155.00" y2="299.90" stroke="#1a1a1a" stroke-width="0.9"/>
<line x1="159.73" y1="296.90" x2="159.73" y2="298.30" stroke="#1a1a1a" stroke-width="0.6"/>
<line x1="162.49" y1="296.90" x2="162.49" y2="298.30" stroke="#1a1a1a" stroke-width="0.6"/>
<line x1="164.45" y1="296.90" x2="164.45" y2="298.30" stroke="#1a1a1a" stroke-width="0.6"/>
<line x1="165.97" y1="296.90" x2="165.97" y2="298.30" stroke="#1a1a1a" stroke-width="0.6"/>
<line x1="167.22" y1="296.90" x2="167.22" y2="298.30" stroke="#1a1a1a" stroke-width="0.6"/>
<line x1="168.27" y1="296.90" x2="168.27" y2="298.30" stroke="#1a1a1a" stroke-width="0.6"/>
<line x1="169.18" y1="296.90" x2="169.18" y2="298.30" stroke="#1a1a1a" stroke-width="0.6"/>
<line x1="169.98" y1="296.90" x2="169.98" y2="298.30" stroke="#1a1a1a" stroke-width="0.6"/>
<text x="154.00" y="310.50" font-size="6.2" text-anchor="middle" fill="#333" class="sm">10</text>
<text x="157.50" y="307.30" font-size="4.2" fill="#333" class="sm">4</text>
<line x1="170.70" y1="296.90" x2="170.70" y2="299.90" stroke="#1a1a1a" stroke-width="0.9"/>
<line x1="175.43" y1="296.90" x2="175.43" y2="298.30" stroke="#1a1a1a" stroke-width="0.6"/>
<text x="169.70" y="310.50" font-size="6.2" text-anchor="middle" fill="#333" class="sm">10</text>
<text x="173.20" y="307.30" font-size="4.2" fill="#333" class="sm">5</text>
<line x1="117.35" y1="296.90" x2="117.35" y2="298.30" stroke="#1a1a1a" stroke-width="0.6"/>
<line x1="118.87" y1="296.90" x2="118.87" y2="298.30" stroke="#1a1a1a" stroke-width="0.6"/>
<line x1="120.12" y1="296.90" x2="120.12" y2="298.30" stroke="#1a1a1a" stroke-width="0.6"/>
<line x1="121.17" y1="296.90" x2="121.17" y2="298.30" stroke="#1a1a1a" stroke-width="0.6"/>
<line x1="122.08" y1="296.90" x2="122.08" y2="298.30" stroke="#1a1a1a" stroke-width="0.6"/>
<line x1="122.88" y1="296.90" x2="122.88" y2="298.30" stroke="#1a1a1a" stroke-width="0.6"/>
<line x1="148.90" y1="266.60" x2="148.90" y2="278.70" stroke="#222" stroke-width="1.3"/>
<line x1="148.90" y1="272.70" x2="177.90" y2="272.70" stroke="#222" stroke-width="1.3"/>
<text x="152.90" y="269.50" font-size="7.3" fill="#333">40.4%</text>
<clipPath id="c2"><rect x="202.00" y="241.60" width="62.40" height="55.30"/></clipPath>
<path d="M202.80,296.90 L202.80,294.80 L203.91,294.61 L205.25,293.68 L206.10,293.40 L207.24,292.28 L208.10,290.80 L210.20,291.40 L210.95,289.95 L211.28,289.10 L212.20,288.10 L212.67,286.76 L212.87,285.70 L213.39,285.15 L213.48,284.08 L213.63,282.80 L214.20,281.40 L214.62,279.90 L214.76,279.08 L215.11,277.57 L215.11,276.99 L215.39,275.28 L215.31,274.66 L215.74,273.52 L215.78,272.17 L216.20,270.70 L216.51,269.97 L216.22,268.37 L216.38,267.60 L216.69,266.68 L216.84,265.41 L217.25,263.82 L217.22,263.35 L217.35,261.71 L217.35,260.98 L217.45,259.71 L217.79,258.56 L217.90,257.40 L217.85,256.44 L218.42,255.04 L218.25,254.47 L218.52,252.80 L218.36,252.13 L218.69,250.77 L218.80,249.82 L219.19,248.43 L218.98,247.94 L219.58,245.97 L219.50,245.30 L219.68,244.02 L219.80,242.40 L219.98,243.81 L220.51,244.88 L220.50,246.00 L221.09,246.73 L221.80,248.00 L221.84,248.87 L221.95,250.12 L222.52,251.60 L222.68,253.13 L222.86,253.54 L223.10,254.77 L223.19,256.63 L223.31,257.42 L223.40,258.70 L223.29,259.46 L223.70,260.73 L223.76,261.88 L223.68,263.04 L224.10,264.34 L224.03,265.47 L224.24,266.63 L224.29,268.17 L224.57,268.63 L224.46,269.73 L224.60,270.71 L224.92,272.33 L224.90,273.40 L225.00,274.95 L225.09,275.87 L225.55,277.05 L225.52,278.08 L225.87,279.63 L225.63,280.47 L225.93,281.82 L226.03,282.72 L226.20,284.38 L226.30,285.40 L226.78,286.52 L226.94,287.74 L227.32,288.88 L227.37,289.85 L228.23,291.53 L228.30,292.40 L229.35,293.43 L230.28,293.79 L231.50,294.80 L232.68,295.06 L233.86,295.32 L235.04,295.58 L236.22,295.84 L237.40,296.10 L238.67,296.18 L239.93,296.27 L241.20,296.35 L242.47,296.43 L243.73,296.52 L245.00,296.60 L245.00,296.90 Z" fill="#e8c2ba" clip-path="url(#c2)"/>
<path d="M202.80,294.80 L203.91,294.61 L205.25,293.68 L206.10,293.40 L207.24,292.28 L208.10,290.80 L210.20,291.40 L210.95,289.95 L211.28,289.10 L212.20,288.10 L212.67,286.76 L212.87,285.70 L213.39,285.15 L213.48,284.08 L213.63,282.80 L214.20,281.40 L214.62,279.90 L214.76,279.08 L215.11,277.57 L215.11,276.99 L215.39,275.28 L215.31,274.66 L215.74,273.52 L215.78,272.17 L216.20,270.70 L216.51,269.97 L216.22,268.37 L216.38,267.60 L216.69,266.68 L216.84,265.41 L217.25,263.82 L217.22,263.35 L217.35,261.71 L217.35,260.98 L217.45,259.71 L217.79,258.56 L217.90,257.40 L217.85,256.44 L218.42,255.04 L218.25,254.47 L218.52,252.80 L218.36,252.13 L218.69,250.77 L218.80,249.82 L219.19,248.43 L218.98,247.94 L219.58,245.97 L219.50,245.30 L219.68,244.02 L219.80,242.40 L219.98,243.81 L220.51,244.88 L220.50,246.00 L221.09,246.73 L221.80,248.00 L221.84,248.87 L221.95,250.12 L222.52,251.60 L222.68,253.13 L222.86,253.54 L223.10,254.77 L223.19,256.63 L223.31,257.42 L223.40,258.70 L223.29,259.46 L223.70,260.73 L223.76,261.88 L223.68,263.04 L224.10,264.34 L224.03,265.47 L224.24,266.63 L224.29,268.17 L224.57,268.63 L224.46,269.73 L224.60,270.71 L224.92,272.33 L224.90,273.40 L225.00,274.95 L225.09,275.87 L225.55,277.05 L225.52,278.08 L225.87,279.63 L225.63,280.47 L225.93,281.82 L226.03,282.72 L226.20,284.38 L226.30,285.40 L226.78,286.52 L226.94,287.74 L227.32,288.88 L227.37,289.85 L228.23,291.53 L228.30,292.40 L229.35,293.43 L230.28,293.79 L231.50,294.80 L232.68,295.06 L233.86,295.32 L235.04,295.58 L236.22,295.84 L237.40,296.10 L238.67,296.18 L239.93,296.27 L241.20,296.35 L242.47,296.43 L243.73,296.52 L245.00,296.60" fill="none" stroke="#7a2535" stroke-width="1.2" stroke-linejoin="round" clip-path="url(#c2)"/>
<rect x="202.00" y="241.60" width="62.40" height="55.30" fill="none" stroke="#1a1a1a" stroke-width="1.2"/>
<line x1="199.00" y1="250.20" x2="202.00" y2="250.20" stroke="#1a1a1a" stroke-width="0.9"/>
<text x="196.70" y="252.05" font-size="5.3" text-anchor="end" fill="#333" class="sm">200</text>
<line x1="199.00" y1="261.88" x2="202.00" y2="261.88" stroke="#1a1a1a" stroke-width="0.9"/>
<text x="196.70" y="263.73" font-size="5.3" text-anchor="end" fill="#333" class="sm">150</text>
<line x1="199.00" y1="273.55" x2="202.00" y2="273.55" stroke="#1a1a1a" stroke-width="0.9"/>
<text x="196.70" y="275.40" font-size="5.3" text-anchor="end" fill="#333" class="sm">100</text>
<line x1="199.00" y1="285.22" x2="202.00" y2="285.22" stroke="#1a1a1a" stroke-width="0.9"/>
<text x="196.70" y="287.07" font-size="5.3" text-anchor="end" fill="#333" class="sm">50</text>
<line x1="199.00" y1="296.90" x2="202.00" y2="296.90" stroke="#1a1a1a" stroke-width="0.9"/>
<text x="196.70" y="298.75" font-size="5.3" text-anchor="end" fill="#333" class="sm">0</text>
<line x1="200.70" y1="294.56" x2="202.00" y2="294.56" stroke="#1a1a1a" stroke-width="0.6"/>
<line x1="200.70" y1="292.23" x2="202.00" y2="292.23" stroke="#1a1a1a" stroke-width="0.6"/>
<line x1="200.70" y1="289.89" x2="202.00" y2="289.89" stroke="#1a1a1a" stroke-width="0.6"/>
<line x1="200.70" y1="287.56" x2="202.00" y2="287.56" stroke="#1a1a1a" stroke-width="0.6"/>
<line x1="200.70" y1="282.89" x2="202.00" y2="282.89" stroke="#1a1a1a" stroke-width="0.6"/>
<line x1="200.70" y1="280.56" x2="202.00" y2="280.56" stroke="#1a1a1a" stroke-width="0.6"/>
<line x1="200.70" y1="278.22" x2="202.00" y2="278.22" stroke="#1a1a1a" stroke-width="0.6"/>
<line x1="200.70" y1="275.88" x2="202.00" y2="275.88" stroke="#1a1a1a" stroke-width="0.6"/>
<line x1="200.70" y1="271.21" x2="202.00" y2="271.21" stroke="#1a1a1a" stroke-width="0.6"/>
<line x1="200.70" y1="268.88" x2="202.00" y2="268.88" stroke="#1a1a1a" stroke-width="0.6"/>
<line x1="200.70" y1="266.54" x2="202.00" y2="266.54" stroke="#1a1a1a" stroke-width="0.6"/>
<line x1="200.70" y1="264.21" x2="202.00" y2="264.21" stroke="#1a1a1a" stroke-width="0.6"/>
<line x1="200.70" y1="259.54" x2="202.00" y2="259.54" stroke="#1a1a1a" stroke-width="0.6"/>
<line x1="200.70" y1="257.20" x2="202.00" y2="257.20" stroke="#1a1a1a" stroke-width="0.6"/>
<line x1="200.70" y1="254.87" x2="202.00" y2="254.87" stroke="#1a1a1a" stroke-width="0.6"/>
<line x1="200.70" y1="252.53" x2="202.00" y2="252.53" stroke="#1a1a1a" stroke-width="0.6"/>
<line x1="200.70" y1="247.86" x2="202.00" y2="247.86" stroke="#1a1a1a" stroke-width="0.6"/>
<line x1="200.70" y1="245.53" x2="202.00" y2="245.53" stroke="#1a1a1a" stroke-width="0.6"/>
<line x1="200.70" y1="243.19" x2="202.00" y2="243.19" stroke="#1a1a1a" stroke-width="0.6"/>
<line x1="210.30" y1="296.90" x2="210.30" y2="299.90" stroke="#1a1a1a" stroke-width="0.9"/>
<line x1="215.03" y1="296.90" x2="215.03" y2="298.30" stroke="#1a1a1a" stroke-width="0.6"/>
<line x1="217.79" y1="296.90" x2="217.79" y2="298.30" stroke="#1a1a1a" stroke-width="0.6"/>
<line x1="219.75" y1="296.90" x2="219.75" y2="298.30" stroke="#1a1a1a" stroke-width="0.6"/>
<line x1="221.27" y1="296.90" x2="221.27" y2="298.30" stroke="#1a1a1a" stroke-width="0.6"/>
<line x1="222.52" y1="296.90" x2="222.52" y2="298.30" stroke="#1a1a1a" stroke-width="0.6"/>
<line x1="223.57" y1="296.90" x2="223.57" y2="298.30" stroke="#1a1a1a" stroke-width="0.6"/>
<line x1="224.48" y1="296.90" x2="224.48" y2="298.30" stroke="#1a1a1a" stroke-width="0.6"/>
<line x1="225.28" y1="296.90" x2="225.28" y2="298.30" stroke="#1a1a1a" stroke-width="0.6"/>
<text x="209.30" y="310.50" font-size="6.2" text-anchor="middle" fill="#333" class="sm">10</text>
<text x="212.80" y="307.30" font-size="4.2" fill="#333" class="sm">2</text>
<line x1="226.00" y1="296.90" x2="226.00" y2="299.90" stroke="#1a1a1a" stroke-width="0.9"/>
<line x1="230.73" y1="296.90" x2="230.73" y2="298.30" stroke="#1a1a1a" stroke-width="0.6"/>
<line x1="233.49" y1="296.90" x2="233.49" y2="298.30" stroke="#1a1a1a" stroke-width="0.6"/>
<line x1="235.45" y1="296.90" x2="235.45" y2="298.30" stroke="#1a1a1a" stroke-width="0.6"/>
<line x1="236.97" y1="296.90" x2="236.97" y2="298.30" stroke="#1a1a1a" stroke-width="0.6"/>
<line x1="238.22" y1="296.90" x2="238.22" y2="298.30" stroke="#1a1a1a" stroke-width="0.6"/>
<line x1="239.27" y1="296.90" x2="239.27" y2="298.30" stroke="#1a1a1a" stroke-width="0.6"/>
<line x1="240.18" y1="296.90" x2="240.18" y2="298.30" stroke="#1a1a1a" stroke-width="0.6"/>
<line x1="240.98" y1="296.90" x2="240.98" y2="298.30" stroke="#1a1a1a" stroke-width="0.6"/>
<text x="225.00" y="310.50" font-size="6.2" text-anchor="middle" fill="#333" class="sm">10</text>
<text x="228.50" y="307.30" font-size="4.2" fill="#333" class="sm">3</text>
<line x1="241.70" y1="296.90" x2="241.70" y2="299.90" stroke="#1a1a1a" stroke-width="0.9"/>
<line x1="246.43" y1="296.90" x2="246.43" y2="298.30" stroke="#1a1a1a" stroke-width="0.6"/>
<line x1="249.19" y1="296.90" x2="249.19" y2="298.30" stroke="#1a1a1a" stroke-width="0.6"/>
<line x1="251.15" y1="296.90" x2="251.15" y2="298.30" stroke="#1a1a1a" stroke-width="0.6"/>
<line x1="252.67" y1="296.90" x2="252.67" y2="298.30" stroke="#1a1a1a" stroke-width="0.6"/>
<line x1="253.92" y1="296.90" x2="253.92" y2="298.30" stroke="#1a1a1a" stroke-width="0.6"/>
<line x1="254.97" y1="296.90" x2="254.97" y2="298.30" stroke="#1a1a1a" stroke-width="0.6"/>
<line x1="255.88" y1="296.90" x2="255.88" y2="298.30" stroke="#1a1a1a" stroke-width="0.6"/>
<line x1="256.68" y1="296.90" x2="256.68" y2="298.30" stroke="#1a1a1a" stroke-width="0.6"/>
<text x="240.70" y="310.50" font-size="6.2" text-anchor="middle" fill="#333" class="sm">10</text>
<text x="244.20" y="307.30" font-size="4.2" fill="#333" class="sm">4</text>
<line x1="257.40" y1="296.90" x2="257.40" y2="299.90" stroke="#1a1a1a" stroke-width="0.9"/>
<line x1="262.13" y1="296.90" x2="262.13" y2="298.30" stroke="#1a1a1a" stroke-width="0.6"/>
<text x="256.40" y="310.50" font-size="6.2" text-anchor="middle" fill="#333" class="sm">10</text>
<text x="259.90" y="307.30" font-size="4.2" fill="#333" class="sm">5</text>
<line x1="204.05" y1="296.90" x2="204.05" y2="298.30" stroke="#1a1a1a" stroke-width="0.6"/>
<line x1="205.57" y1="296.90" x2="205.57" y2="298.30" stroke="#1a1a1a" stroke-width="0.6"/>
<line x1="206.82" y1="296.90" x2="206.82" y2="298.30" stroke="#1a1a1a" stroke-width="0.6"/>
<line x1="207.87" y1="296.90" x2="207.87" y2="298.30" stroke="#1a1a1a" stroke-width="0.6"/>
<line x1="208.78" y1="296.90" x2="208.78" y2="298.30" stroke="#1a1a1a" stroke-width="0.6"/>
<line x1="209.58" y1="296.90" x2="209.58" y2="298.30" stroke="#1a1a1a" stroke-width="0.6"/>
<line x1="235.70" y1="266.50" x2="235.70" y2="279.00" stroke="#222" stroke-width="1.3"/>
<line x1="235.70" y1="272.70" x2="264.40" y2="272.70" stroke="#222" stroke-width="1.3"/>
<text x="241.10" y="269.50" font-size="7.3" fill="#333">0.8%</text>
<clipPath id="c3"><rect x="283.90" y="241.60" width="61.90" height="55.30"/></clipPath>
<path d="M285.10,296.90 L285.10,295.00 L286.23,294.70 L287.37,294.40 L288.50,294.10 L289.84,293.85 L290.34,293.25 L291.80,291.40 L292.02,290.72 L292.47,289.89 L293.10,288.79 L294.32,287.91 L294.57,287.09 L295.20,285.40 L296.04,283.53 L295.79,283.98 L296.33,281.87 L296.12,281.69 L296.16,280.18 L297.31,277.89 L297.20,277.40 L297.17,275.87 L297.57,274.82 L298.14,274.72 L297.64,273.50 L297.52,270.82 L298.36,270.99 L298.70,270.20 L298.50,268.10 L299.76,266.96 L300.20,266.70 L300.63,266.32 L300.05,264.31 L300.27,262.46 L300.80,262.27 L301.52,260.06 L301.14,260.51 L301.59,258.44 L301.15,257.44 L301.60,256.00 L301.48,255.17 L302.07,253.59 L302.39,252.52 L302.16,252.23 L302.07,249.90 L302.50,249.40 L302.67,248.08 L303.09,246.52 L302.60,244.96 L302.78,244.24 L302.86,243.90 L303.00,242.20 L302.75,244.29 L303.80,245.11 L303.88,245.83 L304.02,246.64 L304.40,248.00 L304.52,248.96 L305.03,250.36 L305.70,252.00 L306.45,253.71 L306.43,253.37 L306.29,255.51 L307.06,256.42 L307.28,258.48 L307.15,258.63 L307.70,260.00 L308.50,260.83 L308.95,262.15 L308.65,263.45 L309.70,264.70 L309.71,266.24 L311.09,266.76 L311.66,267.15 L311.70,268.70 L311.97,269.32 L311.85,271.78 L312.19,273.23 L313.10,274.01 L312.85,275.64 L313.70,276.10 L314.63,276.68 L314.54,278.08 L315.50,280.10 L316.60,278.60 L317.70,278.70 L319.39,278.39 L320.40,278.10 L321.53,276.97 L322.38,276.68 L323.10,276.10 L323.77,274.93 L324.66,274.76 L324.98,272.80 L325.10,272.10 L325.29,270.36 L325.76,270.83 L326.47,269.56 L326.95,268.01 L327.80,266.70 L328.38,265.43 L329.82,265.11 L330.40,264.00 L331.90,265.40 L332.81,265.96 L332.44,266.69 L332.77,269.49 L333.57,269.59 L333.90,270.70 L333.97,272.37 L334.62,272.40 L334.13,273.60 L335.26,275.84 L334.84,276.07 L335.18,278.09 L335.93,278.43 L335.90,280.10 L335.96,280.76 L336.91,282.52 L337.15,283.10 L337.05,284.88 L337.64,285.66 L337.09,287.68 L338.17,288.25 L337.90,289.40 L338.13,289.69 L338.68,292.37 L339.00,292.54 L339.65,293.22 L340.00,294.80 L340.90,295.45 L341.80,296.10 L341.80,296.90 Z" fill="#e8c2ba" clip-path="url(#c3)"/>
<path d="M285.10,295.00 L286.23,294.70 L287.37,294.40 L288.50,294.10 L289.84,293.85 L290.34,293.25 L291.80,291.40 L292.02,290.72 L292.47,289.89 L293.10,288.79 L294.32,287.91 L294.57,287.09 L295.20,285.40 L296.04,283.53 L295.79,283.98 L296.33,281.87 L296.12,281.69 L296.16,280.18 L297.31,277.89 L297.20,277.40 L297.17,275.87 L297.57,274.82 L298.14,274.72 L297.64,273.50 L297.52,270.82 L298.36,270.99 L298.70,270.20 L298.50,268.10 L299.76,266.96 L300.20,266.70 L300.63,266.32 L300.05,264.31 L300.27,262.46 L300.80,262.27 L301.52,260.06 L301.14,260.51 L301.59,258.44 L301.15,257.44 L301.60,256.00 L301.48,255.17 L302.07,253.59 L302.39,252.52 L302.16,252.23 L302.07,249.90 L302.50,249.40 L302.67,248.08 L303.09,246.52 L302.60,244.96 L302.78,244.24 L302.86,243.90 L303.00,242.20 L302.75,244.29 L303.80,245.11 L303.88,245.83 L304.02,246.64 L304.40,248.00 L304.52,248.96 L305.03,250.36 L305.70,252.00 L306.45,253.71 L306.43,253.37 L306.29,255.51 L307.06,256.42 L307.28,258.48 L307.15,258.63 L307.70,260.00 L308.50,260.83 L308.95,262.15 L308.65,263.45 L309.70,264.70 L309.71,266.24 L311.09,266.76 L311.66,267.15 L311.70,268.70 L311.97,269.32 L311.85,271.78 L312.19,273.23 L313.10,274.01 L312.85,275.64 L313.70,276.10 L314.63,276.68 L314.54,278.08 L315.50,280.10 L316.60,278.60 L317.70,278.70 L319.39,278.39 L320.40,278.10 L321.53,276.97 L322.38,276.68 L323.10,276.10 L323.77,274.93 L324.66,274.76 L324.98,272.80 L325.10,272.10 L325.29,270.36 L325.76,270.83 L326.47,269.56 L326.95,268.01 L327.80,266.70 L328.38,265.43 L329.82,265.11 L330.40,264.00 L331.90,265.40 L332.81,265.96 L332.44,266.69 L332.77,269.49 L333.57,269.59 L333.90,270.70 L333.97,272.37 L334.62,272.40 L334.13,273.60 L335.26,275.84 L334.84,276.07 L335.18,278.09 L335.93,278.43 L335.90,280.10 L335.96,280.76 L336.91,282.52 L337.15,283.10 L337.05,284.88 L337.64,285.66 L337.09,287.68 L338.17,288.25 L337.90,289.40 L338.13,289.69 L338.68,292.37 L339.00,292.54 L339.65,293.22 L340.00,294.80 L340.90,295.45 L341.80,296.10" fill="none" stroke="#7a2535" stroke-width="1.45" stroke-linejoin="round" clip-path="url(#c3)"/>
<rect x="283.90" y="241.60" width="61.90" height="55.30" fill="none" stroke="#1a1a1a" stroke-width="1.2"/>
<line x1="280.90" y1="246.20" x2="283.90" y2="246.20" stroke="#1a1a1a" stroke-width="0.9"/>
<text x="278.60" y="248.05" font-size="5.3" text-anchor="end" fill="#333" class="sm">100</text>
<line x1="280.90" y1="258.88" x2="283.90" y2="258.88" stroke="#1a1a1a" stroke-width="0.9"/>
<text x="278.60" y="260.73" font-size="5.3" text-anchor="end" fill="#333" class="sm">75</text>
<line x1="280.90" y1="271.55" x2="283.90" y2="271.55" stroke="#1a1a1a" stroke-width="0.9"/>
<text x="278.60" y="273.40" font-size="5.3" text-anchor="end" fill="#333" class="sm">50</text>
<line x1="280.90" y1="284.22" x2="283.90" y2="284.22" stroke="#1a1a1a" stroke-width="0.9"/>
<text x="278.60" y="286.07" font-size="5.3" text-anchor="end" fill="#333" class="sm">25</text>
<line x1="280.90" y1="296.90" x2="283.90" y2="296.90" stroke="#1a1a1a" stroke-width="0.9"/>
<text x="278.60" y="298.75" font-size="5.3" text-anchor="end" fill="#333" class="sm">0</text>
<line x1="282.60" y1="294.79" x2="283.90" y2="294.79" stroke="#1a1a1a" stroke-width="0.6"/>
<line x1="282.60" y1="292.67" x2="283.90" y2="292.67" stroke="#1a1a1a" stroke-width="0.6"/>
<line x1="282.60" y1="290.56" x2="283.90" y2="290.56" stroke="#1a1a1a" stroke-width="0.6"/>
<line x1="282.60" y1="288.45" x2="283.90" y2="288.45" stroke="#1a1a1a" stroke-width="0.6"/>
<line x1="282.60" y1="286.34" x2="283.90" y2="286.34" stroke="#1a1a1a" stroke-width="0.6"/>
<line x1="282.60" y1="282.11" x2="283.90" y2="282.11" stroke="#1a1a1a" stroke-width="0.6"/>
<line x1="282.60" y1="280.00" x2="283.90" y2="280.00" stroke="#1a1a1a" stroke-width="0.6"/>
<line x1="282.60" y1="277.89" x2="283.90" y2="277.89" stroke="#1a1a1a" stroke-width="0.6"/>
<line x1="282.60" y1="275.77" x2="283.90" y2="275.77" stroke="#1a1a1a" stroke-width="0.6"/>
<line x1="282.60" y1="273.66" x2="283.90" y2="273.66" stroke="#1a1a1a" stroke-width="0.6"/>
<line x1="282.60" y1="269.44" x2="283.90" y2="269.44" stroke="#1a1a1a" stroke-width="0.6"/>
<line x1="282.60" y1="267.32" x2="283.90" y2="267.32" stroke="#1a1a1a" stroke-width="0.6"/>
<line x1="282.60" y1="265.21" x2="283.90" y2="265.21" stroke="#1a1a1a" stroke-width="0.6"/>
<line x1="282.60" y1="263.10" x2="283.90" y2="263.10" stroke="#1a1a1a" stroke-width="0.6"/>
<line x1="282.60" y1="260.99" x2="283.90" y2="260.99" stroke="#1a1a1a" stroke-width="0.6"/>
<line x1="282.60" y1="256.76" x2="283.90" y2="256.76" stroke="#1a1a1a" stroke-width="0.6"/>
<line x1="282.60" y1="254.65" x2="283.90" y2="254.65" stroke="#1a1a1a" stroke-width="0.6"/>
<line x1="282.60" y1="252.54" x2="283.90" y2="252.54" stroke="#1a1a1a" stroke-width="0.6"/>
<line x1="282.60" y1="250.42" x2="283.90" y2="250.42" stroke="#1a1a1a" stroke-width="0.6"/>
<line x1="282.60" y1="248.31" x2="283.90" y2="248.31" stroke="#1a1a1a" stroke-width="0.6"/>
<line x1="282.60" y1="244.09" x2="283.90" y2="244.09" stroke="#1a1a1a" stroke-width="0.6"/>
<line x1="292.20" y1="296.90" x2="292.20" y2="299.90" stroke="#1a1a1a" stroke-width="0.9"/>
<line x1="296.93" y1="296.90" x2="296.93" y2="298.30" stroke="#1a1a1a" stroke-width="0.6"/>
<line x1="299.69" y1="296.90" x2="299.69" y2="298.30" stroke="#1a1a1a" stroke-width="0.6"/>
<line x1="301.65" y1="296.90" x2="301.65" y2="298.30" stroke="#1a1a1a" stroke-width="0.6"/>
<line x1="303.17" y1="296.90" x2="303.17" y2="298.30" stroke="#1a1a1a" stroke-width="0.6"/>
<line x1="304.42" y1="296.90" x2="304.42" y2="298.30" stroke="#1a1a1a" stroke-width="0.6"/>
<line x1="305.47" y1="296.90" x2="305.47" y2="298.30" stroke="#1a1a1a" stroke-width="0.6"/>
<line x1="306.38" y1="296.90" x2="306.38" y2="298.30" stroke="#1a1a1a" stroke-width="0.6"/>
<line x1="307.18" y1="296.90" x2="307.18" y2="298.30" stroke="#1a1a1a" stroke-width="0.6"/>
<text x="291.20" y="310.50" font-size="6.2" text-anchor="middle" fill="#333" class="sm">10</text>
<text x="294.70" y="307.30" font-size="4.2" fill="#333" class="sm">2</text>
<line x1="307.90" y1="296.90" x2="307.90" y2="299.90" stroke="#1a1a1a" stroke-width="0.9"/>
<line x1="312.63" y1="296.90" x2="312.63" y2="298.30" stroke="#1a1a1a" stroke-width="0.6"/>
<line x1="315.39" y1="296.90" x2="315.39" y2="298.30" stroke="#1a1a1a" stroke-width="0.6"/>
<line x1="317.35" y1="296.90" x2="317.35" y2="298.30" stroke="#1a1a1a" stroke-width="0.6"/>
<line x1="318.87" y1="296.90" x2="318.87" y2="298.30" stroke="#1a1a1a" stroke-width="0.6"/>
<line x1="320.12" y1="296.90" x2="320.12" y2="298.30" stroke="#1a1a1a" stroke-width="0.6"/>
<line x1="321.17" y1="296.90" x2="321.17" y2="298.30" stroke="#1a1a1a" stroke-width="0.6"/>
<line x1="322.08" y1="296.90" x2="322.08" y2="298.30" stroke="#1a1a1a" stroke-width="0.6"/>
<line x1="322.88" y1="296.90" x2="322.88" y2="298.30" stroke="#1a1a1a" stroke-width="0.6"/>
<text x="306.90" y="310.50" font-size="6.2" text-anchor="middle" fill="#333" class="sm">10</text>
<text x="310.40" y="307.30" font-size="4.2" fill="#333" class="sm">3</text>
<line x1="323.60" y1="296.90" x2="323.60" y2="299.90" stroke="#1a1a1a" stroke-width="0.9"/>
<line x1="328.33" y1="296.90" x2="328.33" y2="298.30" stroke="#1a1a1a" stroke-width="0.6"/>
<line x1="331.09" y1="296.90" x2="331.09" y2="298.30" stroke="#1a1a1a" stroke-width="0.6"/>
<line x1="333.05" y1="296.90" x2="333.05" y2="298.30" stroke="#1a1a1a" stroke-width="0.6"/>
<line x1="334.57" y1="296.90" x2="334.57" y2="298.30" stroke="#1a1a1a" stroke-width="0.6"/>
<line x1="335.82" y1="296.90" x2="335.82" y2="298.30" stroke="#1a1a1a" stroke-width="0.6"/>
<line x1="336.87" y1="296.90" x2="336.87" y2="298.30" stroke="#1a1a1a" stroke-width="0.6"/>
<line x1="337.78" y1="296.90" x2="337.78" y2="298.30" stroke="#1a1a1a" stroke-width="0.6"/>
<line x1="338.58" y1="296.90" x2="338.58" y2="298.30" stroke="#1a1a1a" stroke-width="0.6"/>
<text x="322.60" y="310.50" font-size="6.2" text-anchor="middle" fill="#333" class="sm">10</text>
<text x="326.10" y="307.30" font-size="4.2" fill="#333" class="sm">4</text>
<line x1="339.30" y1="296.90" x2="339.30" y2="299.90" stroke="#1a1a1a" stroke-width="0.9"/>
<line x1="344.03" y1="296.90" x2="344.03" y2="298.30" stroke="#1a1a1a" stroke-width="0.6"/>
<text x="338.30" y="310.50" font-size="6.2" text-anchor="middle" fill="#333" class="sm">10</text>
<text x="341.80" y="307.30" font-size="4.2" fill="#333" class="sm">5</text>
<line x1="285.95" y1="296.90" x2="285.95" y2="298.30" stroke="#1a1a1a" stroke-width="0.6"/>
<line x1="287.47" y1="296.90" x2="287.47" y2="298.30" stroke="#1a1a1a" stroke-width="0.6"/>
<line x1="288.72" y1="296.90" x2="288.72" y2="298.30" stroke="#1a1a1a" stroke-width="0.6"/>
<line x1="289.77" y1="296.90" x2="289.77" y2="298.30" stroke="#1a1a1a" stroke-width="0.6"/>
<line x1="290.68" y1="296.90" x2="290.68" y2="298.30" stroke="#1a1a1a" stroke-width="0.6"/>
<line x1="291.48" y1="296.90" x2="291.48" y2="298.30" stroke="#1a1a1a" stroke-width="0.6"/>
<line x1="316.50" y1="266.30" x2="316.50" y2="279.50" stroke="#222" stroke-width="1.3"/>
<line x1="316.50" y1="272.70" x2="345.80" y2="272.70" stroke="#222" stroke-width="1.3"/>
<text x="320.40" y="269.50" font-size="7.3" fill="#333">39.6%</text>
<clipPath id="c4"><rect x="364.70" y="241.60" width="62.30" height="55.30"/></clipPath>
<path d="M365.70,296.90 L365.70,295.00 L366.73,294.47 L367.50,293.58 L368.80,293.40 L369.88,292.70 L370.87,291.32 L372.20,290.80 L372.71,289.86 L373.31,288.67 L374.24,286.95 L374.80,286.10 L375.22,284.85 L375.55,284.15 L375.78,282.07 L376.64,281.21 L376.80,280.10 L376.89,278.77 L377.23,278.16 L377.39,276.32 L377.85,275.44 L378.30,274.53 L378.22,272.78 L378.73,272.32 L378.80,270.70 L378.72,269.72 L379.35,268.46 L379.18,267.40 L379.64,265.67 L379.76,264.50 L379.62,263.42 L379.95,262.28 L380.30,261.49 L380.40,260.00 L380.82,259.27 L381.02,257.94 L380.82,256.22 L381.17,255.39 L381.37,253.82 L381.28,253.40 L381.68,252.04 L381.80,250.70 L381.71,249.37 L382.28,248.35 L382.45,246.70 L382.29,246.00 L382.41,244.75 L382.60,242.90 L382.70,242.00 L382.72,243.53 L382.96,243.92 L383.40,245.30 L383.51,246.65 L383.99,247.59 L384.00,249.03 L384.08,249.81 L384.46,251.21 L384.35,251.89 L384.80,253.40 L384.75,254.71 L385.19,256.04 L385.37,256.50 L385.51,258.27 L385.43,258.50 L385.58,259.85 L385.62,260.75 L385.73,262.60 L385.83,263.48 L386.06,264.21 L386.53,265.41 L386.50,266.70 L386.47,267.75 L386.90,268.90 L387.13,269.88 L387.09,271.26 L387.21,272.35 L387.35,272.92 L387.31,274.59 L387.80,275.83 L387.91,276.59 L387.77,277.93 L388.10,278.70 L388.12,279.79 L388.36,280.91 L388.68,282.10 L389.13,283.37 L389.10,284.74 L389.60,285.94 L389.70,286.80 L389.89,288.10 L390.79,288.98 L390.86,290.68 L391.39,291.51 L391.90,292.80 L393.04,293.43 L393.67,294.01 L394.80,295.00 L396.02,295.18 L397.23,295.37 L398.45,295.55 L399.67,295.73 L400.88,295.92 L402.10,296.10 L403.23,296.17 L404.36,296.24 L405.49,296.31 L406.61,296.39 L407.74,296.46 L408.87,296.53 L410.00,296.60 L410.00,296.90 Z" fill="#e8c2ba" clip-path="url(#c4)"/>
<path d="M365.70,295.00 L366.73,294.47 L367.50,293.58 L368.80,293.40 L369.88,292.70 L370.87,291.32 L372.20,290.80 L372.71,289.86 L373.31,288.67 L374.24,286.95 L374.80,286.10 L375.22,284.85 L375.55,284.15 L375.78,282.07 L376.64,281.21 L376.80,280.10 L376.89,278.77 L377.23,278.16 L377.39,276.32 L377.85,275.44 L378.30,274.53 L378.22,272.78 L378.73,272.32 L378.80,270.70 L378.72,269.72 L379.35,268.46 L379.18,267.40 L379.64,265.67 L379.76,264.50 L379.62,263.42 L379.95,262.28 L380.30,261.49 L380.40,260.00 L380.82,259.27 L381.02,257.94 L380.82,256.22 L381.17,255.39 L381.37,253.82 L381.28,253.40 L381.68,252.04 L381.80,250.70 L381.71,249.37 L382.28,248.35 L382.45,246.70 L382.29,246.00 L382.41,244.75 L382.60,242.90 L382.70,242.00 L382.72,243.53 L382.96,243.92 L383.40,245.30 L383.51,246.65 L383.99,247.59 L384.00,249.03 L384.08,249.81 L384.46,251.21 L384.35,251.89 L384.80,253.40 L384.75,254.71 L385.19,256.04 L385.37,256.50 L385.51,258.27 L385.43,258.50 L385.58,259.85 L385.62,260.75 L385.73,262.60 L385.83,263.48 L386.06,264.21 L386.53,265.41 L386.50,266.70 L386.47,267.75 L386.90,268.90 L387.13,269.88 L387.09,271.26 L387.21,272.35 L387.35,272.92 L387.31,274.59 L387.80,275.83 L387.91,276.59 L387.77,277.93 L388.10,278.70 L388.12,279.79 L388.36,280.91 L388.68,282.10 L389.13,283.37 L389.10,284.74 L389.60,285.94 L389.70,286.80 L389.89,288.10 L390.79,288.98 L390.86,290.68 L391.39,291.51 L391.90,292.80 L393.04,293.43 L393.67,294.01 L394.80,295.00 L396.02,295.18 L397.23,295.37 L398.45,295.55 L399.67,295.73 L400.88,295.92 L402.10,296.10 L403.23,296.17 L404.36,296.24 L405.49,296.31 L406.61,296.39 L407.74,296.46 L408.87,296.53 L410.00,296.60" fill="none" stroke="#7a2535" stroke-width="1.2" stroke-linejoin="round" clip-path="url(#c4)"/>
<rect x="364.70" y="241.60" width="62.30" height="55.30" fill="none" stroke="#1a1a1a" stroke-width="1.2"/>
<line x1="361.70" y1="244.00" x2="364.70" y2="244.00" stroke="#1a1a1a" stroke-width="0.9"/>
<text x="359.40" y="245.85" font-size="5.3" text-anchor="end" fill="#333" class="sm">200</text>
<line x1="361.70" y1="257.23" x2="364.70" y2="257.23" stroke="#1a1a1a" stroke-width="0.9"/>
<text x="359.40" y="259.08" font-size="5.3" text-anchor="end" fill="#333" class="sm">150</text>
<line x1="361.70" y1="270.45" x2="364.70" y2="270.45" stroke="#1a1a1a" stroke-width="0.9"/>
<text x="359.40" y="272.30" font-size="5.3" text-anchor="end" fill="#333" class="sm">100</text>
<line x1="361.70" y1="283.67" x2="364.70" y2="283.67" stroke="#1a1a1a" stroke-width="0.9"/>
<text x="359.40" y="285.52" font-size="5.3" text-anchor="end" fill="#333" class="sm">50</text>
<line x1="361.70" y1="296.90" x2="364.70" y2="296.90" stroke="#1a1a1a" stroke-width="0.9"/>
<text x="359.40" y="298.75" font-size="5.3" text-anchor="end" fill="#333" class="sm">0</text>
<line x1="363.40" y1="294.70" x2="364.70" y2="294.70" stroke="#1a1a1a" stroke-width="0.6"/>
<line x1="363.40" y1="292.49" x2="364.70" y2="292.49" stroke="#1a1a1a" stroke-width="0.6"/>
<line x1="363.40" y1="290.29" x2="364.70" y2="290.29" stroke="#1a1a1a" stroke-width="0.6"/>
<line x1="363.40" y1="288.08" x2="364.70" y2="288.08" stroke="#1a1a1a" stroke-width="0.6"/>
<line x1="363.40" y1="285.88" x2="364.70" y2="285.88" stroke="#1a1a1a" stroke-width="0.6"/>
<line x1="363.40" y1="281.47" x2="364.70" y2="281.47" stroke="#1a1a1a" stroke-width="0.6"/>
<line x1="363.40" y1="279.27" x2="364.70" y2="279.27" stroke="#1a1a1a" stroke-width="0.6"/>
<line x1="363.40" y1="277.06" x2="364.70" y2="277.06" stroke="#1a1a1a" stroke-width="0.6"/>
<line x1="363.40" y1="274.86" x2="364.70" y2="274.86" stroke="#1a1a1a" stroke-width="0.6"/>
<line x1="363.40" y1="272.65" x2="364.70" y2="272.65" stroke="#1a1a1a" stroke-width="0.6"/>
<line x1="363.40" y1="268.25" x2="364.70" y2="268.25" stroke="#1a1a1a" stroke-width="0.6"/>
<line x1="363.40" y1="266.04" x2="364.70" y2="266.04" stroke="#1a1a1a" stroke-width="0.6"/>
<line x1="363.40" y1="263.84" x2="364.70" y2="263.84" stroke="#1a1a1a" stroke-width="0.6"/>
<line x1="363.40" y1="261.63" x2="364.70" y2="261.63" stroke="#1a1a1a" stroke-width="0.6"/>
<line x1="363.40" y1="259.43" x2="364.70" y2="259.43" stroke="#1a1a1a" stroke-width="0.6"/>
<line x1="363.40" y1="255.02" x2="364.70" y2="255.02" stroke="#1a1a1a" stroke-width="0.6"/>
<line x1="363.40" y1="252.82" x2="364.70" y2="252.82" stroke="#1a1a1a" stroke-width="0.6"/>
<line x1="363.40" y1="250.61" x2="364.70" y2="250.61" stroke="#1a1a1a" stroke-width="0.6"/>
<line x1="363.40" y1="248.41" x2="364.70" y2="248.41" stroke="#1a1a1a" stroke-width="0.6"/>
<line x1="363.40" y1="246.20" x2="364.70" y2="246.20" stroke="#1a1a1a" stroke-width="0.6"/>
<line x1="373.00" y1="296.90" x2="373.00" y2="299.90" stroke="#1a1a1a" stroke-width="0.9"/>
<line x1="377.73" y1="296.90" x2="377.73" y2="298.30" stroke="#1a1a1a" stroke-width="0.6"/>
<line x1="380.49" y1="296.90" x2="380.49" y2="298.30" stroke="#1a1a1a" stroke-width="0.6"/>
<line x1="382.45" y1="296.90" x2="382.45" y2="298.30" stroke="#1a1a1a" stroke-width="0.6"/>
<line x1="383.97" y1="296.90" x2="383.97" y2="298.30" stroke="#1a1a1a" stroke-width="0.6"/>
<line x1="385.22" y1="296.90" x2="385.22" y2="298.30" stroke="#1a1a1a" stroke-width="0.6"/>
<line x1="386.27" y1="296.90" x2="386.27" y2="298.30" stroke="#1a1a1a" stroke-width="0.6"/>
<line x1="387.18" y1="296.90" x2="387.18" y2="298.30" stroke="#1a1a1a" stroke-width="0.6"/>
<line x1="387.98" y1="296.90" x2="387.98" y2="298.30" stroke="#1a1a1a" stroke-width="0.6"/>
<text x="372.00" y="310.50" font-size="6.2" text-anchor="middle" fill="#333" class="sm">10</text>
<text x="375.50" y="307.30" font-size="4.2" fill="#333" class="sm">2</text>
<line x1="388.70" y1="296.90" x2="388.70" y2="299.90" stroke="#1a1a1a" stroke-width="0.9"/>
<line x1="393.43" y1="296.90" x2="393.43" y2="298.30" stroke="#1a1a1a" stroke-width="0.6"/>
<line x1="396.19" y1="296.90" x2="396.19" y2="298.30" stroke="#1a1a1a" stroke-width="0.6"/>
<line x1="398.15" y1="296.90" x2="398.15" y2="298.30" stroke="#1a1a1a" stroke-width="0.6"/>
<line x1="399.67" y1="296.90" x2="399.67" y2="298.30" stroke="#1a1a1a" stroke-width="0.6"/>
<line x1="400.92" y1="296.90" x2="400.92" y2="298.30" stroke="#1a1a1a" stroke-width="0.6"/>
<line x1="401.97" y1="296.90" x2="401.97" y2="298.30" stroke="#1a1a1a" stroke-width="0.6"/>
<line x1="402.88" y1="296.90" x2="402.88" y2="298.30" stroke="#1a1a1a" stroke-width="0.6"/>
<line x1="403.68" y1="296.90" x2="403.68" y2="298.30" stroke="#1a1a1a" stroke-width="0.6"/>
<text x="387.70" y="310.50" font-size="6.2" text-anchor="middle" fill="#333" class="sm">10</text>
<text x="391.20" y="307.30" font-size="4.2" fill="#333" class="sm">3</text>
<line x1="404.40" y1="296.90" x2="404.40" y2="299.90" stroke="#1a1a1a" stroke-width="0.9"/>
<line x1="409.13" y1="296.90" x2="409.13" y2="298.30" stroke="#1a1a1a" stroke-width="0.6"/>
<line x1="411.89" y1="296.90" x2="411.89" y2="298.30" stroke="#1a1a1a" stroke-width="0.6"/>
<line x1="413.85" y1="296.90" x2="413.85" y2="298.30" stroke="#1a1a1a" stroke-width="0.6"/>
<line x1="415.37" y1="296.90" x2="415.37" y2="298.30" stroke="#1a1a1a" stroke-width="0.6"/>
<line x1="416.62" y1="296.90" x2="416.62" y2="298.30" stroke="#1a1a1a" stroke-width="0.6"/>
<line x1="417.67" y1="296.90" x2="417.67" y2="298.30" stroke="#1a1a1a" stroke-width="0.6"/>
<line x1="418.58" y1="296.90" x2="418.58" y2="298.30" stroke="#1a1a1a" stroke-width="0.6"/>
<line x1="419.38" y1="296.90" x2="419.38" y2="298.30" stroke="#1a1a1a" stroke-width="0.6"/>
<text x="403.40" y="310.50" font-size="6.2" text-anchor="middle" fill="#333" class="sm">10</text>
<text x="406.90" y="307.30" font-size="4.2" fill="#333" class="sm">4</text>
<line x1="420.10" y1="296.90" x2="420.10" y2="299.90" stroke="#1a1a1a" stroke-width="0.9"/>
<line x1="424.83" y1="296.90" x2="424.83" y2="298.30" stroke="#1a1a1a" stroke-width="0.6"/>
<text x="419.10" y="310.50" font-size="6.2" text-anchor="middle" fill="#333" class="sm">10</text>
<text x="422.60" y="307.30" font-size="4.2" fill="#333" class="sm">5</text>
<line x1="366.75" y1="296.90" x2="366.75" y2="298.30" stroke="#1a1a1a" stroke-width="0.6"/>
<line x1="368.27" y1="296.90" x2="368.27" y2="298.30" stroke="#1a1a1a" stroke-width="0.6"/>
<line x1="369.52" y1="296.90" x2="369.52" y2="298.30" stroke="#1a1a1a" stroke-width="0.6"/>
<line x1="370.57" y1="296.90" x2="370.57" y2="298.30" stroke="#1a1a1a" stroke-width="0.6"/>
<line x1="371.48" y1="296.90" x2="371.48" y2="298.30" stroke="#1a1a1a" stroke-width="0.6"/>
<line x1="372.28" y1="296.90" x2="372.28" y2="298.30" stroke="#1a1a1a" stroke-width="0.6"/>
<line x1="397.80" y1="266.00" x2="397.80" y2="278.70" stroke="#222" stroke-width="1.3"/>
<line x1="397.80" y1="272.30" x2="427.00" y2="272.30" stroke="#222" stroke-width="1.3"/>
<text x="403.80" y="269.10" font-size="7.3" fill="#333">1.3%</text>
<clipPath id="c5"><rect x="446.00" y="241.60" width="62.50" height="55.30"/></clipPath>
<path d="M446.70,296.90 L446.70,296.10 L447.90,295.10 L449.10,294.10 L450.61,293.32 L451.80,292.80 L452.96,291.31 L453.83,291.23 L454.50,290.80 L455.30,289.00 L455.67,288.01 L456.33,287.71 L457.20,286.10 L457.69,285.78 L458.33,283.17 L458.89,282.55 L458.87,281.35 L459.80,280.10 L459.58,278.74 L460.51,278.22 L461.32,276.97 L460.59,275.59 L461.18,274.99 L461.80,273.40 L462.42,271.44 L462.46,270.66 L461.96,269.79 L462.41,268.30 L462.41,267.40 L463.07,265.71 L462.88,264.68 L463.20,264.00 L463.62,262.36 L463.80,260.78 L464.09,260.38 L464.34,259.91 L464.40,257.29 L464.46,257.07 L464.78,255.99 L464.50,254.70 L464.49,254.29 L465.39,251.82 L464.58,251.06 L465.33,249.36 L465.41,248.91 L465.82,246.98 L465.23,246.51 L465.80,245.30 L466.15,244.37 L466.21,242.65 L466.00,242.00 L465.68,243.59 L466.60,243.57 L466.18,246.08 L467.06,246.38 L466.81,248.01 L467.30,249.40 L466.99,250.12 L467.47,250.73 L468.03,253.54 L467.75,254.17 L468.60,254.49 L468.70,256.00 L469.20,257.60 L469.11,257.99 L469.86,259.13 L469.70,260.14 L470.40,261.40 L471.04,262.62 L471.00,263.10 L471.22,264.90 L472.32,265.15 L472.40,266.70 L472.94,266.96 L472.83,269.04 L473.45,269.80 L473.49,271.03 L474.40,272.10 L474.77,272.65 L475.34,273.70 L475.43,274.53 L476.42,276.45 L476.40,277.40 L477.39,278.44 L477.78,280.39 L478.00,281.40 L479.70,280.10 L480.53,280.20 L482.40,278.70 L483.41,277.07 L484.40,276.10 L484.65,274.60 L485.50,273.82 L485.51,272.75 L486.21,271.94 L486.40,270.70 L486.48,269.71 L487.70,268.15 L487.96,267.91 L487.90,267.03 L488.04,264.47 L488.61,263.11 L489.10,262.70 L489.07,261.30 L489.98,260.65 L490.88,259.48 L490.93,257.29 L490.79,257.13 L491.80,256.00 L492.05,255.88 L493.21,253.20 L492.84,253.44 L494.42,252.21 L494.40,250.70 L494.41,252.79 L495.61,254.10 L495.90,254.70 L496.33,256.21 L496.85,256.86 L496.28,257.56 L496.76,259.93 L497.54,260.36 L497.07,260.96 L497.42,263.51 L497.90,264.00 L497.60,265.43 L498.82,266.45 L498.75,266.69 L498.65,269.14 L498.49,269.53 L499.09,271.77 L499.39,272.55 L499.53,273.07 L499.70,274.70 L500.40,276.37 L499.55,278.01 L500.55,277.48 L500.71,280.36 L500.45,280.85 L500.33,281.44 L500.60,282.42 L500.88,283.72 L501.30,285.40 L501.65,286.93 L502.36,288.69 L501.50,289.59 L502.05,289.88 L503.07,290.63 L503.30,292.05 L503.58,293.26 L503.30,294.80 L504.70,296.40 L504.70,296.90 Z" fill="#e8c2ba" clip-path="url(#c5)"/>
<path d="M446.70,296.10 L447.90,295.10 L449.10,294.10 L450.61,293.32 L451.80,292.80 L452.96,291.31 L453.83,291.23 L454.50,290.80 L455.30,289.00 L455.67,288.01 L456.33,287.71 L457.20,286.10 L457.69,285.78 L458.33,283.17 L458.89,282.55 L458.87,281.35 L459.80,280.10 L459.58,278.74 L460.51,278.22 L461.32,276.97 L460.59,275.59 L461.18,274.99 L461.80,273.40 L462.42,271.44 L462.46,270.66 L461.96,269.79 L462.41,268.30 L462.41,267.40 L463.07,265.71 L462.88,264.68 L463.20,264.00 L463.62,262.36 L463.80,260.78 L464.09,260.38 L464.34,259.91 L464.40,257.29 L464.46,257.07 L464.78,255.99 L464.50,254.70 L464.49,254.29 L465.39,251.82 L464.58,251.06 L465.33,249.36 L465.41,248.91 L465.82,246.98 L465.23,246.51 L465.80,245.30 L466.15,244.37 L466.21,242.65 L466.00,242.00 L465.68,243.59 L466.60,243.57 L466.18,246.08 L467.06,246.38 L466.81,248.01 L467.30,249.40 L466.99,250.12 L467.47,250.73 L468.03,253.54 L467.75,254.17 L468.60,254.49 L468.70,256.00 L469.20,257.60 L469.11,257.99 L469.86,259.13 L469.70,260.14 L470.40,261.40 L471.04,262.62 L471.00,263.10 L471.22,264.90 L472.32,265.15 L472.40,266.70 L472.94,266.96 L472.83,269.04 L473.45,269.80 L473.49,271.03 L474.40,272.10 L474.77,272.65 L475.34,273.70 L475.43,274.53 L476.42,276.45 L476.40,277.40 L477.39,278.44 L477.78,280.39 L478.00,281.40 L479.70,280.10 L480.53,280.20 L482.40,278.70 L483.41,277.07 L484.40,276.10 L484.65,274.60 L485.50,273.82 L485.51,272.75 L486.21,271.94 L486.40,270.70 L486.48,269.71 L487.70,268.15 L487.96,267.91 L487.90,267.03 L488.04,264.47 L488.61,263.11 L489.10,262.70 L489.07,261.30 L489.98,260.65 L490.88,259.48 L490.93,257.29 L490.79,257.13 L491.80,256.00 L492.05,255.88 L493.21,253.20 L492.84,253.44 L494.42,252.21 L494.40,250.70 L494.41,252.79 L495.61,254.10 L495.90,254.70 L496.33,256.21 L496.85,256.86 L496.28,257.56 L496.76,259.93 L497.54,260.36 L497.07,260.96 L497.42,263.51 L497.90,264.00 L497.60,265.43 L498.82,266.45 L498.75,266.69 L498.65,269.14 L498.49,269.53 L499.09,271.77 L499.39,272.55 L499.53,273.07 L499.70,274.70 L500.40,276.37 L499.55,278.01 L500.55,277.48 L500.71,280.36 L500.45,280.85 L500.33,281.44 L500.60,282.42 L500.88,283.72 L501.30,285.40 L501.65,286.93 L502.36,288.69 L501.50,289.59 L502.05,289.88 L503.07,290.63 L503.30,292.05 L503.58,293.26 L503.30,294.80 L504.70,296.40" fill="none" stroke="#7a2535" stroke-width="1.45" stroke-linejoin="round" clip-path="url(#c5)"/>
<rect x="446.00" y="241.60" width="62.50" height="55.30" fill="none" stroke="#1a1a1a" stroke-width="1.2"/>
<line x1="443.00" y1="247.30" x2="446.00" y2="247.30" stroke="#1a1a1a" stroke-width="0.9"/>
<text x="440.70" y="249.15" font-size="5.3" text-anchor="end" fill="#333" class="sm">90</text>
<line x1="443.00" y1="252.81" x2="446.00" y2="252.81" stroke="#1a1a1a" stroke-width="0.9"/>
<text x="440.70" y="254.66" font-size="5.3" text-anchor="end" fill="#333" class="sm">80</text>
<line x1="443.00" y1="258.32" x2="446.00" y2="258.32" stroke="#1a1a1a" stroke-width="0.9"/>
<text x="440.70" y="260.17" font-size="5.3" text-anchor="end" fill="#333" class="sm">70</text>
<line x1="443.00" y1="263.83" x2="446.00" y2="263.83" stroke="#1a1a1a" stroke-width="0.9"/>
<text x="440.70" y="265.68" font-size="5.3" text-anchor="end" fill="#333" class="sm">60</text>
<line x1="443.00" y1="269.34" x2="446.00" y2="269.34" stroke="#1a1a1a" stroke-width="0.9"/>
<text x="440.70" y="271.19" font-size="5.3" text-anchor="end" fill="#333" class="sm">50</text>
<line x1="443.00" y1="274.86" x2="446.00" y2="274.86" stroke="#1a1a1a" stroke-width="0.9"/>
<text x="440.70" y="276.71" font-size="5.3" text-anchor="end" fill="#333" class="sm">40</text>
<line x1="443.00" y1="280.37" x2="446.00" y2="280.37" stroke="#1a1a1a" stroke-width="0.9"/>
<text x="440.70" y="282.22" font-size="5.3" text-anchor="end" fill="#333" class="sm">30</text>
<line x1="443.00" y1="285.88" x2="446.00" y2="285.88" stroke="#1a1a1a" stroke-width="0.9"/>
<text x="440.70" y="287.73" font-size="5.3" text-anchor="end" fill="#333" class="sm">20</text>
<line x1="443.00" y1="291.39" x2="446.00" y2="291.39" stroke="#1a1a1a" stroke-width="0.9"/>
<text x="440.70" y="293.24" font-size="5.3" text-anchor="end" fill="#333" class="sm">10</text>
<line x1="443.00" y1="296.90" x2="446.00" y2="296.90" stroke="#1a1a1a" stroke-width="0.9"/>
<text x="440.70" y="298.75" font-size="5.3" text-anchor="end" fill="#333" class="sm">0</text>
<line x1="444.70" y1="295.06" x2="446.00" y2="295.06" stroke="#1a1a1a" stroke-width="0.6"/>
<line x1="444.70" y1="293.23" x2="446.00" y2="293.23" stroke="#1a1a1a" stroke-width="0.6"/>
<line x1="444.70" y1="289.55" x2="446.00" y2="289.55" stroke="#1a1a1a" stroke-width="0.6"/>
<line x1="444.70" y1="287.71" x2="446.00" y2="287.71" stroke="#1a1a1a" stroke-width="0.6"/>
<line x1="444.70" y1="284.04" x2="446.00" y2="284.04" stroke="#1a1a1a" stroke-width="0.6"/>
<line x1="444.70" y1="282.20" x2="446.00" y2="282.20" stroke="#1a1a1a" stroke-width="0.6"/>
<line x1="444.70" y1="278.53" x2="446.00" y2="278.53" stroke="#1a1a1a" stroke-width="0.6"/>
<line x1="444.70" y1="276.69" x2="446.00" y2="276.69" stroke="#1a1a1a" stroke-width="0.6"/>
<line x1="444.70" y1="273.02" x2="446.00" y2="273.02" stroke="#1a1a1a" stroke-width="0.6"/>
<line x1="444.70" y1="271.18" x2="446.00" y2="271.18" stroke="#1a1a1a" stroke-width="0.6"/>
<line x1="444.70" y1="267.51" x2="446.00" y2="267.51" stroke="#1a1a1a" stroke-width="0.6"/>
<line x1="444.70" y1="265.67" x2="446.00" y2="265.67" stroke="#1a1a1a" stroke-width="0.6"/>
<line x1="444.70" y1="262.00" x2="446.00" y2="262.00" stroke="#1a1a1a" stroke-width="0.6"/>
<line x1="444.70" y1="260.16" x2="446.00" y2="260.16" stroke="#1a1a1a" stroke-width="0.6"/>
<line x1="444.70" y1="256.49" x2="446.00" y2="256.49" stroke="#1a1a1a" stroke-width="0.6"/>
<line x1="444.70" y1="254.65" x2="446.00" y2="254.65" stroke="#1a1a1a" stroke-width="0.6"/>
<line x1="444.70" y1="250.97" x2="446.00" y2="250.97" stroke="#1a1a1a" stroke-width="0.6"/>
<line x1="444.70" y1="249.14" x2="446.00" y2="249.14" stroke="#1a1a1a" stroke-width="0.6"/>
<line x1="444.70" y1="245.46" x2="446.00" y2="245.46" stroke="#1a1a1a" stroke-width="0.6"/>
<line x1="444.70" y1="243.63" x2="446.00" y2="243.63" stroke="#1a1a1a" stroke-width="0.6"/>
<line x1="454.30" y1="296.90" x2="454.30" y2="299.90" stroke="#1a1a1a" stroke-width="0.9"/>
<line x1="459.03" y1="296.90" x2="459.03" y2="298.30" stroke="#1a1a1a" stroke-width="0.6"/>
<line x1="461.79" y1="296.90" x2="461.79" y2="298.30" stroke="#1a1a1a" stroke-width="0.6"/>
<line x1="463.75" y1="296.90" x2="463.75" y2="298.30" stroke="#1a1a1a" stroke-width="0.6"/>
<line x1="465.27" y1="296.90" x2="465.27" y2="298.30" stroke="#1a1a1a" stroke-width="0.6"/>
<line x1="466.52" y1="296.90" x2="466.52" y2="298.30" stroke="#1a1a1a" stroke-width="0.6"/>
<line x1="467.57" y1="296.90" x2="467.57" y2="298.30" stroke="#1a1a1a" stroke-width="0.6"/>
<line x1="468.48" y1="296.90" x2="468.48" y2="298.30" stroke="#1a1a1a" stroke-width="0.6"/>
<line x1="469.28" y1="296.90" x2="469.28" y2="298.30" stroke="#1a1a1a" stroke-width="0.6"/>
<text x="453.30" y="310.50" font-size="6.2" text-anchor="middle" fill="#333" class="sm">10</text>
<text x="456.80" y="307.30" font-size="4.2" fill="#333" class="sm">2</text>
<line x1="470.00" y1="296.90" x2="470.00" y2="299.90" stroke="#1a1a1a" stroke-width="0.9"/>
<line x1="474.73" y1="296.90" x2="474.73" y2="298.30" stroke="#1a1a1a" stroke-width="0.6"/>
<line x1="477.49" y1="296.90" x2="477.49" y2="298.30" stroke="#1a1a1a" stroke-width="0.6"/>
<line x1="479.45" y1="296.90" x2="479.45" y2="298.30" stroke="#1a1a1a" stroke-width="0.6"/>
<line x1="480.97" y1="296.90" x2="480.97" y2="298.30" stroke="#1a1a1a" stroke-width="0.6"/>
<line x1="482.22" y1="296.90" x2="482.22" y2="298.30" stroke="#1a1a1a" stroke-width="0.6"/>
<line x1="483.27" y1="296.90" x2="483.27" y2="298.30" stroke="#1a1a1a" stroke-width="0.6"/>
<line x1="484.18" y1="296.90" x2="484.18" y2="298.30" stroke="#1a1a1a" stroke-width="0.6"/>
<line x1="484.98" y1="296.90" x2="484.98" y2="298.30" stroke="#1a1a1a" stroke-width="0.6"/>
<text x="469.00" y="310.50" font-size="6.2" text-anchor="middle" fill="#333" class="sm">10</text>
<text x="472.50" y="307.30" font-size="4.2" fill="#333" class="sm">3</text>
<line x1="485.70" y1="296.90" x2="485.70" y2="299.90" stroke="#1a1a1a" stroke-width="0.9"/>
<line x1="490.43" y1="296.90" x2="490.43" y2="298.30" stroke="#1a1a1a" stroke-width="0.6"/>
<line x1="493.19" y1="296.90" x2="493.19" y2="298.30" stroke="#1a1a1a" stroke-width="0.6"/>
<line x1="495.15" y1="296.90" x2="495.15" y2="298.30" stroke="#1a1a1a" stroke-width="0.6"/>
<line x1="496.67" y1="296.90" x2="496.67" y2="298.30" stroke="#1a1a1a" stroke-width="0.6"/>
<line x1="497.92" y1="296.90" x2="497.92" y2="298.30" stroke="#1a1a1a" stroke-width="0.6"/>
<line x1="498.97" y1="296.90" x2="498.97" y2="298.30" stroke="#1a1a1a" stroke-width="0.6"/>
<line x1="499.88" y1="296.90" x2="499.88" y2="298.30" stroke="#1a1a1a" stroke-width="0.6"/>
<line x1="500.68" y1="296.90" x2="500.68" y2="298.30" stroke="#1a1a1a" stroke-width="0.6"/>
<text x="484.70" y="310.50" font-size="6.2" text-anchor="middle" fill="#333" class="sm">10</text>
<text x="488.20" y="307.30" font-size="4.2" fill="#333" class="sm">4</text>
<line x1="501.40" y1="296.90" x2="501.40" y2="299.90" stroke="#1a1a1a" stroke-width="0.9"/>
<line x1="506.13" y1="296.90" x2="506.13" y2="298.30" stroke="#1a1a1a" stroke-width="0.6"/>
<text x="500.40" y="310.50" font-size="6.2" text-anchor="middle" fill="#333" class="sm">10</text>
<text x="503.90" y="307.30" font-size="4.2" fill="#333" class="sm">5</text>
<line x1="448.05" y1="296.90" x2="448.05" y2="298.30" stroke="#1a1a1a" stroke-width="0.6"/>
<line x1="449.57" y1="296.90" x2="449.57" y2="298.30" stroke="#1a1a1a" stroke-width="0.6"/>
<line x1="450.82" y1="296.90" x2="450.82" y2="298.30" stroke="#1a1a1a" stroke-width="0.6"/>
<line x1="451.87" y1="296.90" x2="451.87" y2="298.30" stroke="#1a1a1a" stroke-width="0.6"/>
<line x1="452.78" y1="296.90" x2="452.78" y2="298.30" stroke="#1a1a1a" stroke-width="0.6"/>
<line x1="453.58" y1="296.90" x2="453.58" y2="298.30" stroke="#1a1a1a" stroke-width="0.6"/>
<line x1="479.40" y1="266.00" x2="479.40" y2="278.70" stroke="#222" stroke-width="1.3"/>
<line x1="479.40" y1="272.40" x2="508.50" y2="272.40" stroke="#222" stroke-width="1.3"/>
<text x="483.80" y="269.20" font-size="7.3" fill="#333">48.4%</text>
<clipPath id="c6"><rect x="33.00" y="333.50" width="62.00" height="55.40"/></clipPath>
<path d="M33.80,388.90 L33.80,385.30 L35.60,386.40 L36.53,385.84 L37.70,385.30 L38.52,384.10 L39.80,383.20 L40.27,381.71 L41.20,381.10 L41.48,379.66 L41.90,379.12 L42.15,377.91 L42.60,376.97 L43.20,375.60 L43.63,374.15 L43.99,373.42 L43.87,371.96 L44.51,371.24 L44.52,369.45 L45.15,368.90 L45.30,367.30 L45.24,365.80 L45.76,364.88 L45.73,364.26 L46.09,362.94 L46.32,361.87 L46.45,360.67 L46.50,359.01 L46.83,358.65 L46.69,357.27 L46.68,356.03 L47.10,354.90 L47.31,353.60 L47.33,352.98 L47.33,351.53 L47.44,350.36 L48.01,349.45 L47.69,348.56 L48.17,347.15 L48.11,345.84 L48.19,345.02 L48.50,343.80 L48.39,342.99 L48.54,341.48 L48.93,340.03 L48.89,338.89 L49.05,338.15 L49.35,336.53 L49.40,335.30 L49.82,336.53 L49.88,337.34 L50.40,339.00 L50.93,340.55 L50.74,341.58 L51.39,343.07 L51.28,343.63 L51.80,345.20 L51.87,346.42 L51.83,347.63 L52.32,348.53 L52.50,349.61 L52.62,350.73 L52.51,351.85 L52.80,353.44 L52.59,354.30 L53.13,355.52 L52.93,356.35 L53.20,357.60 L53.53,358.50 L53.68,359.82 L53.56,361.26 L53.76,362.31 L53.98,363.52 L54.12,364.69 L54.06,365.31 L54.35,366.62 L54.10,367.62 L54.43,369.07 L54.57,370.62 L54.60,371.50 L55.00,372.97 L55.11,373.79 L54.85,375.34 L55.52,376.27 L55.63,377.56 L55.51,379.00 L55.50,379.78 L55.90,381.10 L56.46,381.95 L56.83,383.45 L57.10,384.69 L57.70,386.00 L59.07,386.47 L60.43,386.93 L61.80,387.40 L62.97,387.51 L64.14,387.63 L65.31,387.74 L66.49,387.86 L67.66,387.97 L68.83,388.09 L70.00,388.20 L70.00,388.90 Z" fill="#e8c2ba" clip-path="url(#c6)"/>
<path d="M33.80,385.30 L35.60,386.40 L36.53,385.84 L37.70,385.30 L38.52,384.10 L39.80,383.20 L40.27,381.71 L41.20,381.10 L41.48,379.66 L41.90,379.12 L42.15,377.91 L42.60,376.97 L43.20,375.60 L43.63,374.15 L43.99,373.42 L43.87,371.96 L44.51,371.24 L44.52,369.45 L45.15,368.90 L45.30,367.30 L45.24,365.80 L45.76,364.88 L45.73,364.26 L46.09,362.94 L46.32,361.87 L46.45,360.67 L46.50,359.01 L46.83,358.65 L46.69,357.27 L46.68,356.03 L47.10,354.90 L47.31,353.60 L47.33,352.98 L47.33,351.53 L47.44,350.36 L48.01,349.45 L47.69,348.56 L48.17,347.15 L48.11,345.84 L48.19,345.02 L48.50,343.80 L48.39,342.99 L48.54,341.48 L48.93,340.03 L48.89,338.89 L49.05,338.15 L49.35,336.53 L49.40,335.30 L49.82,336.53 L49.88,337.34 L50.40,339.00 L50.93,340.55 L50.74,341.58 L51.39,343.07 L51.28,343.63 L51.80,345.20 L51.87,346.42 L51.83,347.63 L52.32,348.53 L52.50,349.61 L52.62,350.73 L52.51,351.85 L52.80,353.44 L52.59,354.30 L53.13,355.52 L52.93,356.35 L53.20,357.60 L53.53,358.50 L53.68,359.82 L53.56,361.26 L53.76,362.31 L53.98,363.52 L54.12,364.69 L54.06,365.31 L54.35,366.62 L54.10,367.62 L54.43,369.07 L54.57,370.62 L54.60,371.50 L55.00,372.97 L55.11,373.79 L54.85,375.34 L55.52,376.27 L55.63,377.56 L55.51,379.00 L55.50,379.78 L55.90,381.10 L56.46,381.95 L56.83,383.45 L57.10,384.69 L57.70,386.00 L59.07,386.47 L60.43,386.93 L61.80,387.40 L62.97,387.51 L64.14,387.63 L65.31,387.74 L66.49,387.86 L67.66,387.97 L68.83,388.09 L70.00,388.20" fill="none" stroke="#7a2535" stroke-width="1.2" stroke-linejoin="round" clip-path="url(#c6)"/>
<rect x="33.00" y="333.50" width="62.00" height="55.40" fill="none" stroke="#1a1a1a" stroke-width="1.2"/>
<line x1="30.00" y1="340.50" x2="33.00" y2="340.50" stroke="#1a1a1a" stroke-width="0.9"/>
<text x="27.70" y="342.35" font-size="5.3" text-anchor="end" fill="#333" class="sm">200</text>
<line x1="30.00" y1="352.60" x2="33.00" y2="352.60" stroke="#1a1a1a" stroke-width="0.9"/>
<text x="27.70" y="354.45" font-size="5.3" text-anchor="end" fill="#333" class="sm">150</text>
<line x1="30.00" y1="364.70" x2="33.00" y2="364.70" stroke="#1a1a1a" stroke-width="0.9"/>
<text x="27.70" y="366.55" font-size="5.3" text-anchor="end" fill="#333" class="sm">100</text>
<line x1="30.00" y1="376.80" x2="33.00" y2="376.80" stroke="#1a1a1a" stroke-width="0.9"/>
<text x="27.70" y="378.65" font-size="5.3" text-anchor="end" fill="#333" class="sm">50</text>
<line x1="30.00" y1="388.90" x2="33.00" y2="388.90" stroke="#1a1a1a" stroke-width="0.9"/>
<text x="27.70" y="390.75" font-size="5.3" text-anchor="end" fill="#333" class="sm">0</text>
<line x1="31.70" y1="386.48" x2="33.00" y2="386.48" stroke="#1a1a1a" stroke-width="0.6"/>
<line x1="31.70" y1="384.06" x2="33.00" y2="384.06" stroke="#1a1a1a" stroke-width="0.6"/>
<line x1="31.70" y1="381.64" x2="33.00" y2="381.64" stroke="#1a1a1a" stroke-width="0.6"/>
<line x1="31.70" y1="379.22" x2="33.00" y2="379.22" stroke="#1a1a1a" stroke-width="0.6"/>
<line x1="31.70" y1="374.38" x2="33.00" y2="374.38" stroke="#1a1a1a" stroke-width="0.6"/>
<line x1="31.70" y1="371.96" x2="33.00" y2="371.96" stroke="#1a1a1a" stroke-width="0.6"/>
<line x1="31.70" y1="369.54" x2="33.00" y2="369.54" stroke="#1a1a1a" stroke-width="0.6"/>
<line x1="31.70" y1="367.12" x2="33.00" y2="367.12" stroke="#1a1a1a" stroke-width="0.6"/>
<line x1="31.70" y1="362.28" x2="33.00" y2="362.28" stroke="#1a1a1a" stroke-width="0.6"/>
<line x1="31.70" y1="359.86" x2="33.00" y2="359.86" stroke="#1a1a1a" stroke-width="0.6"/>
<line x1="31.70" y1="357.44" x2="33.00" y2="357.44" stroke="#1a1a1a" stroke-width="0.6"/>
<line x1="31.70" y1="355.02" x2="33.00" y2="355.02" stroke="#1a1a1a" stroke-width="0.6"/>
<line x1="31.70" y1="350.18" x2="33.00" y2="350.18" stroke="#1a1a1a" stroke-width="0.6"/>
<line x1="31.70" y1="347.76" x2="33.00" y2="347.76" stroke="#1a1a1a" stroke-width="0.6"/>
<line x1="31.70" y1="345.34" x2="33.00" y2="345.34" stroke="#1a1a1a" stroke-width="0.6"/>
<line x1="31.70" y1="342.92" x2="33.00" y2="342.92" stroke="#1a1a1a" stroke-width="0.6"/>
<line x1="31.70" y1="338.08" x2="33.00" y2="338.08" stroke="#1a1a1a" stroke-width="0.6"/>
<line x1="31.70" y1="335.66" x2="33.00" y2="335.66" stroke="#1a1a1a" stroke-width="0.6"/>
<line x1="41.30" y1="388.90" x2="41.30" y2="391.90" stroke="#1a1a1a" stroke-width="0.9"/>
<line x1="46.03" y1="388.90" x2="46.03" y2="390.30" stroke="#1a1a1a" stroke-width="0.6"/>
<line x1="48.79" y1="388.90" x2="48.79" y2="390.30" stroke="#1a1a1a" stroke-width="0.6"/>
<line x1="50.75" y1="388.90" x2="50.75" y2="390.30" stroke="#1a1a1a" stroke-width="0.6"/>
<line x1="52.27" y1="388.90" x2="52.27" y2="390.30" stroke="#1a1a1a" stroke-width="0.6"/>
<line x1="53.52" y1="388.90" x2="53.52" y2="390.30" stroke="#1a1a1a" stroke-width="0.6"/>
<line x1="54.57" y1="388.90" x2="54.57" y2="390.30" stroke="#1a1a1a" stroke-width="0.6"/>
<line x1="55.48" y1="388.90" x2="55.48" y2="390.30" stroke="#1a1a1a" stroke-width="0.6"/>
<line x1="56.28" y1="388.90" x2="56.28" y2="390.30" stroke="#1a1a1a" stroke-width="0.6"/>
<text x="40.30" y="402.50" font-size="6.2" text-anchor="middle" fill="#333" class="sm">10</text>
<text x="43.80" y="399.30" font-size="4.2" fill="#333" class="sm">2</text>
<line x1="57.00" y1="388.90" x2="57.00" y2="391.90" stroke="#1a1a1a" stroke-width="0.9"/>
<line x1="61.73" y1="388.90" x2="61.73" y2="390.30" stroke="#1a1a1a" stroke-width="0.6"/>
<line x1="64.49" y1="388.90" x2="64.49" y2="390.30" stroke="#1a1a1a" stroke-width="0.6"/>
<line x1="66.45" y1="388.90" x2="66.45" y2="390.30" stroke="#1a1a1a" stroke-width="0.6"/>
<line x1="67.97" y1="388.90" x2="67.97" y2="390.30" stroke="#1a1a1a" stroke-width="0.6"/>
<line x1="69.22" y1="388.90" x2="69.22" y2="390.30" stroke="#1a1a1a" stroke-width="0.6"/>
<line x1="70.27" y1="388.90" x2="70.27" y2="390.30" stroke="#1a1a1a" stroke-width="0.6"/>
<line x1="71.18" y1="388.90" x2="71.18" y2="390.30" stroke="#1a1a1a" stroke-width="0.6"/>
<line x1="71.98" y1="388.90" x2="71.98" y2="390.30" stroke="#1a1a1a" stroke-width="0.6"/>
<text x="56.00" y="402.50" font-size="6.2" text-anchor="middle" fill="#333" class="sm">10</text>
<text x="59.50" y="399.30" font-size="4.2" fill="#333" class="sm">3</text>
<line x1="72.70" y1="388.90" x2="72.70" y2="391.90" stroke="#1a1a1a" stroke-width="0.9"/>
<line x1="77.43" y1="388.90" x2="77.43" y2="390.30" stroke="#1a1a1a" stroke-width="0.6"/>
<line x1="80.19" y1="388.90" x2="80.19" y2="390.30" stroke="#1a1a1a" stroke-width="0.6"/>
<line x1="82.15" y1="388.90" x2="82.15" y2="390.30" stroke="#1a1a1a" stroke-width="0.6"/>
<line x1="83.67" y1="388.90" x2="83.67" y2="390.30" stroke="#1a1a1a" stroke-width="0.6"/>
<line x1="84.92" y1="388.90" x2="84.92" y2="390.30" stroke="#1a1a1a" stroke-width="0.6"/>
<line x1="85.97" y1="388.90" x2="85.97" y2="390.30" stroke="#1a1a1a" stroke-width="0.6"/>
<line x1="86.88" y1="388.90" x2="86.88" y2="390.30" stroke="#1a1a1a" stroke-width="0.6"/>
<line x1="87.68" y1="388.90" x2="87.68" y2="390.30" stroke="#1a1a1a" stroke-width="0.6"/>
<text x="71.70" y="402.50" font-size="6.2" text-anchor="middle" fill="#333" class="sm">10</text>
<text x="75.20" y="399.30" font-size="4.2" fill="#333" class="sm">4</text>
<line x1="88.40" y1="388.90" x2="88.40" y2="391.90" stroke="#1a1a1a" stroke-width="0.9"/>
<line x1="93.13" y1="388.90" x2="93.13" y2="390.30" stroke="#1a1a1a" stroke-width="0.6"/>
<text x="87.40" y="402.50" font-size="6.2" text-anchor="middle" fill="#333" class="sm">10</text>
<text x="90.90" y="399.30" font-size="4.2" fill="#333" class="sm">5</text>
<line x1="35.05" y1="388.90" x2="35.05" y2="390.30" stroke="#1a1a1a" stroke-width="0.6"/>
<line x1="36.57" y1="388.90" x2="36.57" y2="390.30" stroke="#1a1a1a" stroke-width="0.6"/>
<line x1="37.82" y1="388.90" x2="37.82" y2="390.30" stroke="#1a1a1a" stroke-width="0.6"/>
<line x1="38.87" y1="388.90" x2="38.87" y2="390.30" stroke="#1a1a1a" stroke-width="0.6"/>
<line x1="39.78" y1="388.90" x2="39.78" y2="390.30" stroke="#1a1a1a" stroke-width="0.6"/>
<line x1="40.58" y1="388.90" x2="40.58" y2="390.30" stroke="#1a1a1a" stroke-width="0.6"/>
<line x1="66.20" y1="362.30" x2="66.20" y2="374.30" stroke="#222" stroke-width="1.3"/>
<line x1="66.20" y1="368.40" x2="95.00" y2="368.40" stroke="#222" stroke-width="1.3"/>
<text x="72.10" y="365.20" font-size="7.3" fill="#333">1.6%</text>
<clipPath id="c7"><rect x="114.50" y="333.50" width="61.90" height="55.40"/></clipPath>
<path d="M114.80,388.90 L114.80,387.40 L115.97,386.70 L117.68,385.15 L118.30,385.30 L119.49,384.34 L120.67,383.26 L121.10,382.50 L122.10,380.83 L122.71,380.28 L122.31,379.13 L123.20,378.40 L123.68,376.36 L123.74,375.17 L123.71,374.32 L124.23,373.37 L125.18,372.49 L125.20,371.50 L125.96,371.21 L126.35,370.25 L126.34,368.68 L126.60,367.30 L127.27,366.23 L126.66,365.04 L127.33,363.24 L127.07,362.10 L127.99,362.14 L128.00,360.40 L128.35,359.14 L127.81,357.21 L128.70,357.08 L128.65,355.28 L128.45,354.17 L128.63,353.84 L129.01,352.63 L129.40,351.40 L129.47,350.35 L129.99,349.64 L129.47,348.84 L130.42,347.43 L130.12,346.54 L130.69,344.04 L130.70,344.05 L130.93,343.00 L130.80,341.10 L131.33,340.38 L131.32,339.31 L131.90,338.38 L132.80,336.90 L133.36,335.16 L133.00,333.90 L132.78,334.13 L133.57,335.45 L134.10,337.41 L134.10,338.30 L134.28,339.84 L134.05,340.65 L134.11,342.03 L135.13,342.49 L135.19,345.30 L134.95,345.02 L135.04,347.42 L135.50,348.00 L135.15,349.65 L135.48,350.74 L136.32,352.04 L135.66,352.60 L135.93,354.35 L136.03,354.13 L136.28,355.10 L136.20,357.40 L136.45,357.55 L137.27,358.82 L136.90,360.40 L137.46,361.91 L137.40,363.00 L137.65,364.53 L138.00,364.60 L138.00,366.20 L139.60,367.30 L140.83,366.96 L141.70,366.60 L143.23,366.92 L143.80,368.70 L144.80,368.54 L145.90,366.60 L147.90,367.30 L148.81,367.18 L150.70,366.20 L152.56,365.91 L153.50,365.20 L154.10,366.22 L155.70,366.20 L156.36,366.83 L157.93,367.05 L158.50,368.00 L158.91,368.44 L159.72,369.58 L160.60,371.50 L161.49,373.03 L161.43,373.35 L162.60,374.20 L163.35,375.85 L163.17,376.50 L164.07,377.60 L164.85,379.46 L164.70,379.80 L165.93,380.22 L165.56,382.24 L166.80,383.20 L167.69,383.80 L168.11,385.84 L169.54,385.43 L170.00,387.40 L170.00,388.90 Z" fill="#e8c2ba" clip-path="url(#c7)"/>
<path d="M114.80,387.40 L115.97,386.70 L117.68,385.15 L118.30,385.30 L119.49,384.34 L120.67,383.26 L121.10,382.50 L122.10,380.83 L122.71,380.28 L122.31,379.13 L123.20,378.40 L123.68,376.36 L123.74,375.17 L123.71,374.32 L124.23,373.37 L125.18,372.49 L125.20,371.50 L125.96,371.21 L126.35,370.25 L126.34,368.68 L126.60,367.30 L127.27,366.23 L126.66,365.04 L127.33,363.24 L127.07,362.10 L127.99,362.14 L128.00,360.40 L128.35,359.14 L127.81,357.21 L128.70,357.08 L128.65,355.28 L128.45,354.17 L128.63,353.84 L129.01,352.63 L129.40,351.40 L129.47,350.35 L129.99,349.64 L129.47,348.84 L130.42,347.43 L130.12,346.54 L130.69,344.04 L130.70,344.05 L130.93,343.00 L130.80,341.10 L131.33,340.38 L131.32,339.31 L131.90,338.38 L132.80,336.90 L133.36,335.16 L133.00,333.90 L132.78,334.13 L133.57,335.45 L134.10,337.41 L134.10,338.30 L134.28,339.84 L134.05,340.65 L134.11,342.03 L135.13,342.49 L135.19,345.30 L134.95,345.02 L135.04,347.42 L135.50,348.00 L135.15,349.65 L135.48,350.74 L136.32,352.04 L135.66,352.60 L135.93,354.35 L136.03,354.13 L136.28,355.10 L136.20,357.40 L136.45,357.55 L137.27,358.82 L136.90,360.40 L137.46,361.91 L137.40,363.00 L137.65,364.53 L138.00,364.60 L138.00,366.20 L139.60,367.30 L140.83,366.96 L141.70,366.60 L143.23,366.92 L143.80,368.70 L144.80,368.54 L145.90,366.60 L147.90,367.30 L148.81,367.18 L150.70,366.20 L152.56,365.91 L153.50,365.20 L154.10,366.22 L155.70,366.20 L156.36,366.83 L157.93,367.05 L158.50,368.00 L158.91,368.44 L159.72,369.58 L160.60,371.50 L161.49,373.03 L161.43,373.35 L162.60,374.20 L163.35,375.85 L163.17,376.50 L164.07,377.60 L164.85,379.46 L164.70,379.80 L165.93,380.22 L165.56,382.24 L166.80,383.20 L167.69,383.80 L168.11,385.84 L169.54,385.43 L170.00,387.40" fill="none" stroke="#7a2535" stroke-width="1.45" stroke-linejoin="round" clip-path="url(#c7)"/>
<rect x="114.50" y="333.50" width="61.90" height="55.40" fill="none" stroke="#1a1a1a" stroke-width="1.2"/>
<line x1="111.50" y1="333.90" x2="114.50" y2="333.90" stroke="#1a1a1a" stroke-width="0.9"/>
<text x="109.20" y="335.75" font-size="5.3" text-anchor="end" fill="#333" class="sm">90</text>
<line x1="111.50" y1="340.01" x2="114.50" y2="340.01" stroke="#1a1a1a" stroke-width="0.9"/>
<text x="109.20" y="341.86" font-size="5.3" text-anchor="end" fill="#333" class="sm">80</text>
<line x1="111.50" y1="346.12" x2="114.50" y2="346.12" stroke="#1a1a1a" stroke-width="0.9"/>
<text x="109.20" y="347.97" font-size="5.3" text-anchor="end" fill="#333" class="sm">70</text>
<line x1="111.50" y1="352.23" x2="114.50" y2="352.23" stroke="#1a1a1a" stroke-width="0.9"/>
<text x="109.20" y="354.08" font-size="5.3" text-anchor="end" fill="#333" class="sm">60</text>
<line x1="111.50" y1="358.34" x2="114.50" y2="358.34" stroke="#1a1a1a" stroke-width="0.9"/>
<text x="109.20" y="360.19" font-size="5.3" text-anchor="end" fill="#333" class="sm">50</text>
<line x1="111.50" y1="364.46" x2="114.50" y2="364.46" stroke="#1a1a1a" stroke-width="0.9"/>
<text x="109.20" y="366.31" font-size="5.3" text-anchor="end" fill="#333" class="sm">40</text>
<line x1="111.50" y1="370.57" x2="114.50" y2="370.57" stroke="#1a1a1a" stroke-width="0.9"/>
<text x="109.20" y="372.42" font-size="5.3" text-anchor="end" fill="#333" class="sm">30</text>
<line x1="111.50" y1="376.68" x2="114.50" y2="376.68" stroke="#1a1a1a" stroke-width="0.9"/>
<text x="109.20" y="378.53" font-size="5.3" text-anchor="end" fill="#333" class="sm">20</text>
<line x1="111.50" y1="382.79" x2="114.50" y2="382.79" stroke="#1a1a1a" stroke-width="0.9"/>
<text x="109.20" y="384.64" font-size="5.3" text-anchor="end" fill="#333" class="sm">10</text>
<line x1="111.50" y1="388.90" x2="114.50" y2="388.90" stroke="#1a1a1a" stroke-width="0.9"/>
<text x="109.20" y="390.75" font-size="5.3" text-anchor="end" fill="#333" class="sm">0</text>
<line x1="113.20" y1="386.86" x2="114.50" y2="386.86" stroke="#1a1a1a" stroke-width="0.6"/>
<line x1="113.20" y1="384.83" x2="114.50" y2="384.83" stroke="#1a1a1a" stroke-width="0.6"/>
<line x1="113.20" y1="380.75" x2="114.50" y2="380.75" stroke="#1a1a1a" stroke-width="0.6"/>
<line x1="113.20" y1="378.71" x2="114.50" y2="378.71" stroke="#1a1a1a" stroke-width="0.6"/>
<line x1="113.20" y1="374.64" x2="114.50" y2="374.64" stroke="#1a1a1a" stroke-width="0.6"/>
<line x1="113.20" y1="372.60" x2="114.50" y2="372.60" stroke="#1a1a1a" stroke-width="0.6"/>
<line x1="113.20" y1="368.53" x2="114.50" y2="368.53" stroke="#1a1a1a" stroke-width="0.6"/>
<line x1="113.20" y1="366.49" x2="114.50" y2="366.49" stroke="#1a1a1a" stroke-width="0.6"/>
<line x1="113.20" y1="362.42" x2="114.50" y2="362.42" stroke="#1a1a1a" stroke-width="0.6"/>
<line x1="113.20" y1="360.38" x2="114.50" y2="360.38" stroke="#1a1a1a" stroke-width="0.6"/>
<line x1="113.20" y1="356.31" x2="114.50" y2="356.31" stroke="#1a1a1a" stroke-width="0.6"/>
<line x1="113.20" y1="354.27" x2="114.50" y2="354.27" stroke="#1a1a1a" stroke-width="0.6"/>
<line x1="113.20" y1="350.20" x2="114.50" y2="350.20" stroke="#1a1a1a" stroke-width="0.6"/>
<line x1="113.20" y1="348.16" x2="114.50" y2="348.16" stroke="#1a1a1a" stroke-width="0.6"/>
<line x1="113.20" y1="344.09" x2="114.50" y2="344.09" stroke="#1a1a1a" stroke-width="0.6"/>
<line x1="113.20" y1="342.05" x2="114.50" y2="342.05" stroke="#1a1a1a" stroke-width="0.6"/>
<line x1="113.20" y1="337.97" x2="114.50" y2="337.97" stroke="#1a1a1a" stroke-width="0.6"/>
<line x1="113.20" y1="335.94" x2="114.50" y2="335.94" stroke="#1a1a1a" stroke-width="0.6"/>
<line x1="122.80" y1="388.90" x2="122.80" y2="391.90" stroke="#1a1a1a" stroke-width="0.9"/>
<line x1="127.53" y1="388.90" x2="127.53" y2="390.30" stroke="#1a1a1a" stroke-width="0.6"/>
<line x1="130.29" y1="388.90" x2="130.29" y2="390.30" stroke="#1a1a1a" stroke-width="0.6"/>
<line x1="132.25" y1="388.90" x2="132.25" y2="390.30" stroke="#1a1a1a" stroke-width="0.6"/>
<line x1="133.77" y1="388.90" x2="133.77" y2="390.30" stroke="#1a1a1a" stroke-width="0.6"/>
<line x1="135.02" y1="388.90" x2="135.02" y2="390.30" stroke="#1a1a1a" stroke-width="0.6"/>
<line x1="136.07" y1="388.90" x2="136.07" y2="390.30" stroke="#1a1a1a" stroke-width="0.6"/>
<line x1="136.98" y1="388.90" x2="136.98" y2="390.30" stroke="#1a1a1a" stroke-width="0.6"/>
<line x1="137.78" y1="388.90" x2="137.78" y2="390.30" stroke="#1a1a1a" stroke-width="0.6"/>
<text x="121.80" y="402.50" font-size="6.2" text-anchor="middle" fill="#333" class="sm">10</text>
<text x="125.30" y="399.30" font-size="4.2" fill="#333" class="sm">2</text>
<line x1="138.50" y1="388.90" x2="138.50" y2="391.90" stroke="#1a1a1a" stroke-width="0.9"/>
<line x1="143.23" y1="388.90" x2="143.23" y2="390.30" stroke="#1a1a1a" stroke-width="0.6"/>
<line x1="145.99" y1="388.90" x2="145.99" y2="390.30" stroke="#1a1a1a" stroke-width="0.6"/>
<line x1="147.95" y1="388.90" x2="147.95" y2="390.30" stroke="#1a1a1a" stroke-width="0.6"/>
<line x1="149.47" y1="388.90" x2="149.47" y2="390.30" stroke="#1a1a1a" stroke-width="0.6"/>
<line x1="150.72" y1="388.90" x2="150.72" y2="390.30" stroke="#1a1a1a" stroke-width="0.6"/>
<line x1="151.77" y1="388.90" x2="151.77" y2="390.30" stroke="#1a1a1a" stroke-width="0.6"/>
<line x1="152.68" y1="388.90" x2="152.68" y2="390.30" stroke="#1a1a1a" stroke-width="0.6"/>
<line x1="153.48" y1="388.90" x2="153.48" y2="390.30" stroke="#1a1a1a" stroke-width="0.6"/>
<text x="137.50" y="402.50" font-size="6.2" text-anchor="middle" fill="#333" class="sm">10</text>
<text x="141.00" y="399.30" font-size="4.2" fill="#333" class="sm">3</text>
<line x1="154.20" y1="388.90" x2="154.20" y2="391.90" stroke="#1a1a1a" stroke-width="0.9"/>
<line x1="158.93" y1="388.90" x2="158.93" y2="390.30" stroke="#1a1a1a" stroke-width="0.6"/>
<line x1="161.69" y1="388.90" x2="161.69" y2="390.30" stroke="#1a1a1a" stroke-width="0.6"/>
<line x1="163.65" y1="388.90" x2="163.65" y2="390.30" stroke="#1a1a1a" stroke-width="0.6"/>
<line x1="165.17" y1="388.90" x2="165.17" y2="390.30" stroke="#1a1a1a" stroke-width="0.6"/>
<line x1="166.42" y1="388.90" x2="166.42" y2="390.30" stroke="#1a1a1a" stroke-width="0.6"/>
<line x1="167.47" y1="388.90" x2="167.47" y2="390.30" stroke="#1a1a1a" stroke-width="0.6"/>
<line x1="168.38" y1="388.90" x2="168.38" y2="390.30" stroke="#1a1a1a" stroke-width="0.6"/>
<line x1="169.18" y1="388.90" x2="169.18" y2="390.30" stroke="#1a1a1a" stroke-width="0.6"/>
<text x="153.20" y="402.50" font-size="6.2" text-anchor="middle" fill="#333" class="sm">10</text>
<text x="156.70" y="399.30" font-size="4.2" fill="#333" class="sm">4</text>
<line x1="169.90" y1="388.90" x2="169.90" y2="391.90" stroke="#1a1a1a" stroke-width="0.9"/>
<line x1="174.63" y1="388.90" x2="174.63" y2="390.30" stroke="#1a1a1a" stroke-width="0.6"/>
<text x="168.90" y="402.50" font-size="6.2" text-anchor="middle" fill="#333" class="sm">10</text>
<text x="172.40" y="399.30" font-size="4.2" fill="#333" class="sm">5</text>
<line x1="116.55" y1="388.90" x2="116.55" y2="390.30" stroke="#1a1a1a" stroke-width="0.6"/>
<line x1="118.07" y1="388.90" x2="118.07" y2="390.30" stroke="#1a1a1a" stroke-width="0.6"/>
<line x1="119.32" y1="388.90" x2="119.32" y2="390.30" stroke="#1a1a1a" stroke-width="0.6"/>
<line x1="120.37" y1="388.90" x2="120.37" y2="390.30" stroke="#1a1a1a" stroke-width="0.6"/>
<line x1="121.28" y1="388.90" x2="121.28" y2="390.30" stroke="#1a1a1a" stroke-width="0.6"/>
<line x1="122.08" y1="388.90" x2="122.08" y2="390.30" stroke="#1a1a1a" stroke-width="0.6"/>
<line x1="148.20" y1="362.10" x2="148.20" y2="374.50" stroke="#222" stroke-width="1.3"/>
<line x1="148.20" y1="368.40" x2="176.40" y2="368.40" stroke="#222" stroke-width="1.3"/>
<text x="152.10" y="365.20" font-size="7.3" fill="#333">40.5%</text>
<clipPath id="c8"><rect x="202.10" y="333.50" width="62.00" height="55.40"/></clipPath>
<path d="M203.30,388.90 L203.30,386.00 L204.30,385.34 L205.60,383.90 L206.77,382.77 L207.65,382.69 L208.40,381.80 L209.20,380.46 L209.98,379.89 L210.50,379.10 L211.00,378.08 L211.31,377.21 L211.41,376.10 L212.09,375.25 L212.39,373.49 L212.50,372.80 L212.88,371.94 L212.99,370.05 L213.53,369.34 L213.95,367.89 L213.78,367.01 L214.49,365.90 L214.60,364.60 L214.60,363.24 L214.82,362.09 L215.39,360.92 L215.47,359.50 L215.67,358.98 L215.82,357.15 L216.19,356.46 L216.30,354.90 L216.24,353.91 L216.71,352.77 L216.85,351.73 L217.21,350.24 L217.01,349.03 L217.41,348.01 L217.54,347.15 L217.71,346.13 L217.93,344.94 L218.10,343.80 L218.60,342.48 L218.54,341.77 L219.07,340.11 L219.50,339.00 L219.32,337.80 L219.72,336.07 L219.61,334.76 L219.60,333.90 L219.81,334.74 L220.10,336.20 L220.41,337.85 L220.48,338.61 L220.78,340.28 L220.60,341.25 L221.14,342.91 L221.20,343.80 L221.13,345.29 L221.29,346.20 L221.73,347.54 L221.57,348.59 L221.71,349.31 L222.15,350.29 L222.27,351.43 L222.31,352.78 L222.16,353.70 L222.41,355.53 L222.66,356.20 L222.60,357.60 L222.56,358.28 L222.59,359.92 L222.71,360.60 L222.76,361.64 L222.89,363.29 L223.22,364.29 L223.15,365.57 L223.21,366.64 L223.51,367.77 L223.58,368.35 L223.73,369.77 L223.46,370.87 L223.67,371.72 L223.87,373.46 L224.00,374.20 L223.99,375.28 L224.46,376.49 L224.72,377.98 L224.76,378.84 L224.82,380.11 L225.14,380.70 L225.30,382.07 L224.98,383.43 L225.40,384.60 L226.39,385.61 L227.70,386.90 L228.80,387.08 L229.90,387.26 L231.00,387.44 L232.10,387.62 L233.20,387.80 L234.33,387.88 L235.47,387.97 L236.60,388.05 L237.73,388.13 L238.87,388.22 L240.00,388.30 L240.00,388.90 Z" fill="#e8c2ba" clip-path="url(#c8)"/>
<path d="M203.30,386.00 L204.30,385.34 L205.60,383.90 L206.77,382.77 L207.65,382.69 L208.40,381.80 L209.20,380.46 L209.98,379.89 L210.50,379.10 L211.00,378.08 L211.31,377.21 L211.41,376.10 L212.09,375.25 L212.39,373.49 L212.50,372.80 L212.88,371.94 L212.99,370.05 L213.53,369.34 L213.95,367.89 L213.78,367.01 L214.49,365.90 L214.60,364.60 L214.60,363.24 L214.82,362.09 L215.39,360.92 L215.47,359.50 L215.67,358.98 L215.82,357.15 L216.19,356.46 L216.30,354.90 L216.24,353.91 L216.71,352.77 L216.85,351.73 L217.21,350.24 L217.01,349.03 L217.41,348.01 L217.54,347.15 L217.71,346.13 L217.93,344.94 L218.10,343.80 L218.60,342.48 L218.54,341.77 L219.07,340.11 L219.50,339.00 L219.32,337.80 L219.72,336.07 L219.61,334.76 L219.60,333.90 L219.81,334.74 L220.10,336.20 L220.41,337.85 L220.48,338.61 L220.78,340.28 L220.60,341.25 L221.14,342.91 L221.20,343.80 L221.13,345.29 L221.29,346.20 L221.73,347.54 L221.57,348.59 L221.71,349.31 L222.15,350.29 L222.27,351.43 L222.31,352.78 L222.16,353.70 L222.41,355.53 L222.66,356.20 L222.60,357.60 L222.56,358.28 L222.59,359.92 L222.71,360.60 L222.76,361.64 L222.89,363.29 L223.22,364.29 L223.15,365.57 L223.21,366.64 L223.51,367.77 L223.58,368.35 L223.73,369.77 L223.46,370.87 L223.67,371.72 L223.87,373.46 L224.00,374.20 L223.99,375.28 L224.46,376.49 L224.72,377.98 L224.76,378.84 L224.82,380.11 L225.14,380.70 L225.30,382.07 L224.98,383.43 L225.40,384.60 L226.39,385.61 L227.70,386.90 L228.80,387.08 L229.90,387.26 L231.00,387.44 L232.10,387.62 L233.20,387.80 L234.33,387.88 L235.47,387.97 L236.60,388.05 L237.73,388.13 L238.87,388.22 L240.00,388.30" fill="none" stroke="#7a2535" stroke-width="1.2" stroke-linejoin="round" clip-path="url(#c8)"/>
<rect x="202.10" y="333.50" width="62.00" height="55.40" fill="none" stroke="#1a1a1a" stroke-width="1.2"/>
<line x1="199.10" y1="345.80" x2="202.10" y2="345.80" stroke="#1a1a1a" stroke-width="0.9"/>
<text x="196.80" y="347.65" font-size="5.3" text-anchor="end" fill="#333" class="sm">150</text>
<line x1="199.10" y1="360.17" x2="202.10" y2="360.17" stroke="#1a1a1a" stroke-width="0.9"/>
<text x="196.80" y="362.02" font-size="5.3" text-anchor="end" fill="#333" class="sm">100</text>
<line x1="199.10" y1="374.53" x2="202.10" y2="374.53" stroke="#1a1a1a" stroke-width="0.9"/>
<text x="196.80" y="376.38" font-size="5.3" text-anchor="end" fill="#333" class="sm">50</text>
<line x1="199.10" y1="388.90" x2="202.10" y2="388.90" stroke="#1a1a1a" stroke-width="0.9"/>
<text x="196.80" y="390.75" font-size="5.3" text-anchor="end" fill="#333" class="sm">0</text>
<line x1="200.80" y1="386.85" x2="202.10" y2="386.85" stroke="#1a1a1a" stroke-width="0.6"/>
<line x1="200.80" y1="384.80" x2="202.10" y2="384.80" stroke="#1a1a1a" stroke-width="0.6"/>
<line x1="200.80" y1="382.74" x2="202.10" y2="382.74" stroke="#1a1a1a" stroke-width="0.6"/>
<line x1="200.80" y1="380.69" x2="202.10" y2="380.69" stroke="#1a1a1a" stroke-width="0.6"/>
<line x1="200.80" y1="378.64" x2="202.10" y2="378.64" stroke="#1a1a1a" stroke-width="0.6"/>
<line x1="200.80" y1="376.59" x2="202.10" y2="376.59" stroke="#1a1a1a" stroke-width="0.6"/>
<line x1="200.80" y1="372.48" x2="202.10" y2="372.48" stroke="#1a1a1a" stroke-width="0.6"/>
<line x1="200.80" y1="370.43" x2="202.10" y2="370.43" stroke="#1a1a1a" stroke-width="0.6"/>
<line x1="200.80" y1="368.38" x2="202.10" y2="368.38" stroke="#1a1a1a" stroke-width="0.6"/>
<line x1="200.80" y1="366.32" x2="202.10" y2="366.32" stroke="#1a1a1a" stroke-width="0.6"/>
<line x1="200.80" y1="364.27" x2="202.10" y2="364.27" stroke="#1a1a1a" stroke-width="0.6"/>
<line x1="200.80" y1="362.22" x2="202.10" y2="362.22" stroke="#1a1a1a" stroke-width="0.6"/>
<line x1="200.80" y1="358.11" x2="202.10" y2="358.11" stroke="#1a1a1a" stroke-width="0.6"/>
<line x1="200.80" y1="356.06" x2="202.10" y2="356.06" stroke="#1a1a1a" stroke-width="0.6"/>
<line x1="200.80" y1="354.01" x2="202.10" y2="354.01" stroke="#1a1a1a" stroke-width="0.6"/>
<line x1="200.80" y1="351.96" x2="202.10" y2="351.96" stroke="#1a1a1a" stroke-width="0.6"/>
<line x1="200.80" y1="349.90" x2="202.10" y2="349.90" stroke="#1a1a1a" stroke-width="0.6"/>
<line x1="200.80" y1="347.85" x2="202.10" y2="347.85" stroke="#1a1a1a" stroke-width="0.6"/>
<line x1="200.80" y1="343.75" x2="202.10" y2="343.75" stroke="#1a1a1a" stroke-width="0.6"/>
<line x1="200.80" y1="341.70" x2="202.10" y2="341.70" stroke="#1a1a1a" stroke-width="0.6"/>
<line x1="200.80" y1="339.64" x2="202.10" y2="339.64" stroke="#1a1a1a" stroke-width="0.6"/>
<line x1="200.80" y1="337.59" x2="202.10" y2="337.59" stroke="#1a1a1a" stroke-width="0.6"/>
<line x1="200.80" y1="335.54" x2="202.10" y2="335.54" stroke="#1a1a1a" stroke-width="0.6"/>
<line x1="210.40" y1="388.90" x2="210.40" y2="391.90" stroke="#1a1a1a" stroke-width="0.9"/>
<line x1="215.13" y1="388.90" x2="215.13" y2="390.30" stroke="#1a1a1a" stroke-width="0.6"/>
<line x1="217.89" y1="388.90" x2="217.89" y2="390.30" stroke="#1a1a1a" stroke-width="0.6"/>
<line x1="219.85" y1="388.90" x2="219.85" y2="390.30" stroke="#1a1a1a" stroke-width="0.6"/>
<line x1="221.37" y1="388.90" x2="221.37" y2="390.30" stroke="#1a1a1a" stroke-width="0.6"/>
<line x1="222.62" y1="388.90" x2="222.62" y2="390.30" stroke="#1a1a1a" stroke-width="0.6"/>
<line x1="223.67" y1="388.90" x2="223.67" y2="390.30" stroke="#1a1a1a" stroke-width="0.6"/>
<line x1="224.58" y1="388.90" x2="224.58" y2="390.30" stroke="#1a1a1a" stroke-width="0.6"/>
<line x1="225.38" y1="388.90" x2="225.38" y2="390.30" stroke="#1a1a1a" stroke-width="0.6"/>
<text x="209.40" y="402.50" font-size="6.2" text-anchor="middle" fill="#333" class="sm">10</text>
<text x="212.90" y="399.30" font-size="4.2" fill="#333" class="sm">2</text>
<line x1="226.10" y1="388.90" x2="226.10" y2="391.90" stroke="#1a1a1a" stroke-width="0.9"/>
<line x1="230.83" y1="388.90" x2="230.83" y2="390.30" stroke="#1a1a1a" stroke-width="0.6"/>
<line x1="233.59" y1="388.90" x2="233.59" y2="390.30" stroke="#1a1a1a" stroke-width="0.6"/>
<line x1="235.55" y1="388.90" x2="235.55" y2="390.30" stroke="#1a1a1a" stroke-width="0.6"/>
<line x1="237.07" y1="388.90" x2="237.07" y2="390.30" stroke="#1a1a1a" stroke-width="0.6"/>
<line x1="238.32" y1="388.90" x2="238.32" y2="390.30" stroke="#1a1a1a" stroke-width="0.6"/>
<line x1="239.37" y1="388.90" x2="239.37" y2="390.30" stroke="#1a1a1a" stroke-width="0.6"/>
<line x1="240.28" y1="388.90" x2="240.28" y2="390.30" stroke="#1a1a1a" stroke-width="0.6"/>
<line x1="241.08" y1="388.90" x2="241.08" y2="390.30" stroke="#1a1a1a" stroke-width="0.6"/>
<text x="225.10" y="402.50" font-size="6.2" text-anchor="middle" fill="#333" class="sm">10</text>
<text x="228.60" y="399.30" font-size="4.2" fill="#333" class="sm">3</text>
<line x1="241.80" y1="388.90" x2="241.80" y2="391.90" stroke="#1a1a1a" stroke-width="0.9"/>
<line x1="246.53" y1="388.90" x2="246.53" y2="390.30" stroke="#1a1a1a" stroke-width="0.6"/>
<line x1="249.29" y1="388.90" x2="249.29" y2="390.30" stroke="#1a1a1a" stroke-width="0.6"/>
<line x1="251.25" y1="388.90" x2="251.25" y2="390.30" stroke="#1a1a1a" stroke-width="0.6"/>
<line x1="252.77" y1="388.90" x2="252.77" y2="390.30" stroke="#1a1a1a" stroke-width="0.6"/>
<line x1="254.02" y1="388.90" x2="254.02" y2="390.30" stroke="#1a1a1a" stroke-width="0.6"/>
<line x1="255.07" y1="388.90" x2="255.07" y2="390.30" stroke="#1a1a1a" stroke-width="0.6"/>
<line x1="255.98" y1="388.90" x2="255.98" y2="390.30" stroke="#1a1a1a" stroke-width="0.6"/>
<line x1="256.78" y1="388.90" x2="256.78" y2="390.30" stroke="#1a1a1a" stroke-width="0.6"/>
<text x="240.80" y="402.50" font-size="6.2" text-anchor="middle" fill="#333" class="sm">10</text>
<text x="244.30" y="399.30" font-size="4.2" fill="#333" class="sm">4</text>
<line x1="257.50" y1="388.90" x2="257.50" y2="391.90" stroke="#1a1a1a" stroke-width="0.9"/>
<line x1="262.23" y1="388.90" x2="262.23" y2="390.30" stroke="#1a1a1a" stroke-width="0.6"/>
<text x="256.50" y="402.50" font-size="6.2" text-anchor="middle" fill="#333" class="sm">10</text>
<text x="260.00" y="399.30" font-size="4.2" fill="#333" class="sm">5</text>
<line x1="204.15" y1="388.90" x2="204.15" y2="390.30" stroke="#1a1a1a" stroke-width="0.6"/>
<line x1="205.67" y1="388.90" x2="205.67" y2="390.30" stroke="#1a1a1a" stroke-width="0.6"/>
<line x1="206.92" y1="388.90" x2="206.92" y2="390.30" stroke="#1a1a1a" stroke-width="0.6"/>
<line x1="207.97" y1="388.90" x2="207.97" y2="390.30" stroke="#1a1a1a" stroke-width="0.6"/>
<line x1="208.88" y1="388.90" x2="208.88" y2="390.30" stroke="#1a1a1a" stroke-width="0.6"/>
<line x1="209.68" y1="388.90" x2="209.68" y2="390.30" stroke="#1a1a1a" stroke-width="0.6"/>
<line x1="235.70" y1="362.10" x2="235.70" y2="374.90" stroke="#222" stroke-width="1.3"/>
<line x1="235.70" y1="368.70" x2="264.10" y2="368.70" stroke="#222" stroke-width="1.3"/>
<text x="241.20" y="365.50" font-size="7.3" fill="#333">1.1%</text>
<clipPath id="c9"><rect x="283.10" y="333.50" width="62.20" height="55.40"/></clipPath>
<path d="M284.30,388.90 L284.30,386.00 L284.96,385.53 L286.60,385.30 L287.71,384.85 L289.40,384.60 L289.54,384.19 L290.31,382.86 L291.15,381.29 L291.04,379.49 L291.50,379.10 L292.49,377.12 L292.68,376.13 L293.50,375.60 L294.11,374.37 L294.21,373.35 L294.94,373.06 L294.75,371.72 L295.49,370.22 L295.60,368.70 L296.38,367.06 L295.86,366.51 L296.08,365.07 L296.19,365.19 L297.30,364.03 L297.33,362.06 L297.02,360.97 L296.92,359.35 L297.70,359.00 L297.78,357.71 L298.10,356.87 L297.58,356.29 L298.07,354.46 L298.12,353.12 L298.85,353.14 L298.13,351.92 L298.60,350.00 L299.08,349.50 L298.60,348.53 L299.07,346.58 L298.57,345.58 L298.85,344.04 L299.77,343.03 L299.83,341.96 L299.60,341.10 L299.16,339.81 L299.22,338.24 L299.80,338.17 L299.24,337.14 L299.64,334.84 L299.14,334.88 L299.60,333.40 L301.47,334.02 L302.51,332.58 L303.80,333.40 L304.21,333.84 L304.39,335.15 L304.74,337.16 L304.01,337.70 L304.20,340.12 L304.60,341.00 L304.46,341.32 L305.14,342.62 L304.60,343.83 L304.70,345.02 L304.74,345.70 L304.92,347.55 L305.96,349.51 L305.60,350.00 L305.76,350.46 L306.29,351.76 L305.92,353.42 L305.91,353.88 L306.55,354.76 L306.02,356.96 L306.05,356.79 L305.92,359.23 L306.53,359.64 L306.60,361.00 L307.13,362.49 L306.54,362.87 L307.47,364.47 L307.23,365.60 L307.82,367.28 L307.83,368.11 L307.60,369.50 L308.31,369.69 L308.60,371.50 L309.22,371.77 L310.70,372.80 L311.51,374.01 L312.80,373.50 L313.89,372.96 L315.60,372.20 L317.37,371.57 L318.30,370.80 L320.15,370.50 L321.10,369.40 L322.70,370.10 L323.99,370.47 L324.70,372.20 L325.41,373.80 L326.43,374.50 L327.50,374.90 L328.59,376.75 L329.42,377.64 L330.30,377.70 L331.57,379.22 L332.62,380.30 L333.00,381.10 L333.64,382.58 L334.64,382.97 L335.38,383.80 L335.80,384.60 L337.12,385.59 L337.53,386.47 L338.40,387.40 L338.40,388.90 Z" fill="#e8c2ba" clip-path="url(#c9)"/>
<path d="M284.30,386.00 L284.96,385.53 L286.60,385.30 L287.71,384.85 L289.40,384.60 L289.54,384.19 L290.31,382.86 L291.15,381.29 L291.04,379.49 L291.50,379.10 L292.49,377.12 L292.68,376.13 L293.50,375.60 L294.11,374.37 L294.21,373.35 L294.94,373.06 L294.75,371.72 L295.49,370.22 L295.60,368.70 L296.38,367.06 L295.86,366.51 L296.08,365.07 L296.19,365.19 L297.30,364.03 L297.33,362.06 L297.02,360.97 L296.92,359.35 L297.70,359.00 L297.78,357.71 L298.10,356.87 L297.58,356.29 L298.07,354.46 L298.12,353.12 L298.85,353.14 L298.13,351.92 L298.60,350.00 L299.08,349.50 L298.60,348.53 L299.07,346.58 L298.57,345.58 L298.85,344.04 L299.77,343.03 L299.83,341.96 L299.60,341.10 L299.16,339.81 L299.22,338.24 L299.80,338.17 L299.24,337.14 L299.64,334.84 L299.14,334.88 L299.60,333.40 L301.47,334.02 L302.51,332.58 L303.80,333.40 L304.21,333.84 L304.39,335.15 L304.74,337.16 L304.01,337.70 L304.20,340.12 L304.60,341.00 L304.46,341.32 L305.14,342.62 L304.60,343.83 L304.70,345.02 L304.74,345.70 L304.92,347.55 L305.96,349.51 L305.60,350.00 L305.76,350.46 L306.29,351.76 L305.92,353.42 L305.91,353.88 L306.55,354.76 L306.02,356.96 L306.05,356.79 L305.92,359.23 L306.53,359.64 L306.60,361.00 L307.13,362.49 L306.54,362.87 L307.47,364.47 L307.23,365.60 L307.82,367.28 L307.83,368.11 L307.60,369.50 L308.31,369.69 L308.60,371.50 L309.22,371.77 L310.70,372.80 L311.51,374.01 L312.80,373.50 L313.89,372.96 L315.60,372.20 L317.37,371.57 L318.30,370.80 L320.15,370.50 L321.10,369.40 L322.70,370.10 L323.99,370.47 L324.70,372.20 L325.41,373.80 L326.43,374.50 L327.50,374.90 L328.59,376.75 L329.42,377.64 L330.30,377.70 L331.57,379.22 L332.62,380.30 L333.00,381.10 L333.64,382.58 L334.64,382.97 L335.38,383.80 L335.80,384.60 L337.12,385.59 L337.53,386.47 L338.40,387.40" fill="none" stroke="#7a2535" stroke-width="1.45" stroke-linejoin="round" clip-path="url(#c9)"/>
<rect x="283.10" y="333.50" width="62.20" height="55.40" fill="none" stroke="#1a1a1a" stroke-width="1.2"/>
<line x1="280.10" y1="336.90" x2="283.10" y2="336.90" stroke="#1a1a1a" stroke-width="0.9"/>
<text x="277.80" y="338.75" font-size="5.3" text-anchor="end" fill="#333" class="sm">100</text>
<line x1="280.10" y1="349.90" x2="283.10" y2="349.90" stroke="#1a1a1a" stroke-width="0.9"/>
<text x="277.80" y="351.75" font-size="5.3" text-anchor="end" fill="#333" class="sm">75</text>
<line x1="280.10" y1="362.90" x2="283.10" y2="362.90" stroke="#1a1a1a" stroke-width="0.9"/>
<text x="277.80" y="364.75" font-size="5.3" text-anchor="end" fill="#333" class="sm">50</text>
<line x1="280.10" y1="375.90" x2="283.10" y2="375.90" stroke="#1a1a1a" stroke-width="0.9"/>
<text x="277.80" y="377.75" font-size="5.3" text-anchor="end" fill="#333" class="sm">25</text>
<line x1="280.10" y1="388.90" x2="283.10" y2="388.90" stroke="#1a1a1a" stroke-width="0.9"/>
<text x="277.80" y="390.75" font-size="5.3" text-anchor="end" fill="#333" class="sm">0</text>
<line x1="281.80" y1="386.73" x2="283.10" y2="386.73" stroke="#1a1a1a" stroke-width="0.6"/>
<line x1="281.80" y1="384.57" x2="283.10" y2="384.57" stroke="#1a1a1a" stroke-width="0.6"/>
<line x1="281.80" y1="382.40" x2="283.10" y2="382.40" stroke="#1a1a1a" stroke-width="0.6"/>
<line x1="281.80" y1="380.23" x2="283.10" y2="380.23" stroke="#1a1a1a" stroke-width="0.6"/>
<line x1="281.80" y1="378.07" x2="283.10" y2="378.07" stroke="#1a1a1a" stroke-width="0.6"/>
<line x1="281.80" y1="373.73" x2="283.10" y2="373.73" stroke="#1a1a1a" stroke-width="0.6"/>
<line x1="281.80" y1="371.57" x2="283.10" y2="371.57" stroke="#1a1a1a" stroke-width="0.6"/>
<line x1="281.80" y1="369.40" x2="283.10" y2="369.40" stroke="#1a1a1a" stroke-width="0.6"/>
<line x1="281.80" y1="367.23" x2="283.10" y2="367.23" stroke="#1a1a1a" stroke-width="0.6"/>
<line x1="281.80" y1="365.07" x2="283.10" y2="365.07" stroke="#1a1a1a" stroke-width="0.6"/>
<line x1="281.80" y1="360.73" x2="283.10" y2="360.73" stroke="#1a1a1a" stroke-width="0.6"/>
<line x1="281.80" y1="358.57" x2="283.10" y2="358.57" stroke="#1a1a1a" stroke-width="0.6"/>
<line x1="281.80" y1="356.40" x2="283.10" y2="356.40" stroke="#1a1a1a" stroke-width="0.6"/>
<line x1="281.80" y1="354.23" x2="283.10" y2="354.23" stroke="#1a1a1a" stroke-width="0.6"/>
<line x1="281.80" y1="352.07" x2="283.10" y2="352.07" stroke="#1a1a1a" stroke-width="0.6"/>
<line x1="281.80" y1="347.73" x2="283.10" y2="347.73" stroke="#1a1a1a" stroke-width="0.6"/>
<line x1="281.80" y1="345.57" x2="283.10" y2="345.57" stroke="#1a1a1a" stroke-width="0.6"/>
<line x1="281.80" y1="343.40" x2="283.10" y2="343.40" stroke="#1a1a1a" stroke-width="0.6"/>
<line x1="281.80" y1="341.23" x2="283.10" y2="341.23" stroke="#1a1a1a" stroke-width="0.6"/>
<line x1="281.80" y1="339.07" x2="283.10" y2="339.07" stroke="#1a1a1a" stroke-width="0.6"/>
<line x1="281.80" y1="334.73" x2="283.10" y2="334.73" stroke="#1a1a1a" stroke-width="0.6"/>
<line x1="291.40" y1="388.90" x2="291.40" y2="391.90" stroke="#1a1a1a" stroke-width="0.9"/>
<line x1="296.13" y1="388.90" x2="296.13" y2="390.30" stroke="#1a1a1a" stroke-width="0.6"/>
<line x1="298.89" y1="388.90" x2="298.89" y2="390.30" stroke="#1a1a1a" stroke-width="0.6"/>
<line x1="300.85" y1="388.90" x2="300.85" y2="390.30" stroke="#1a1a1a" stroke-width="0.6"/>
<line x1="302.37" y1="388.90" x2="302.37" y2="390.30" stroke="#1a1a1a" stroke-width="0.6"/>
<line x1="303.62" y1="388.90" x2="303.62" y2="390.30" stroke="#1a1a1a" stroke-width="0.6"/>
<line x1="304.67" y1="388.90" x2="304.67" y2="390.30" stroke="#1a1a1a" stroke-width="0.6"/>
<line x1="305.58" y1="388.90" x2="305.58" y2="390.30" stroke="#1a1a1a" stroke-width="0.6"/>
<line x1="306.38" y1="388.90" x2="306.38" y2="390.30" stroke="#1a1a1a" stroke-width="0.6"/>
<text x="290.40" y="402.50" font-size="6.2" text-anchor="middle" fill="#333" class="sm">10</text>
<text x="293.90" y="399.30" font-size="4.2" fill="#333" class="sm">2</text>
<line x1="307.10" y1="388.90" x2="307.10" y2="391.90" stroke="#1a1a1a" stroke-width="0.9"/>
<line x1="311.83" y1="388.90" x2="311.83" y2="390.30" stroke="#1a1a1a" stroke-width="0.6"/>
<line x1="314.59" y1="388.90" x2="314.59" y2="390.30" stroke="#1a1a1a" stroke-width="0.6"/>
<line x1="316.55" y1="388.90" x2="316.55" y2="390.30" stroke="#1a1a1a" stroke-width="0.6"/>
<line x1="318.07" y1="388.90" x2="318.07" y2="390.30" stroke="#1a1a1a" stroke-width="0.6"/>
<line x1="319.32" y1="388.90" x2="319.32" y2="390.30" stroke="#1a1a1a" stroke-width="0.6"/>
<line x1="320.37" y1="388.90" x2="320.37" y2="390.30" stroke="#1a1a1a" stroke-width="0.6"/>
<line x1="321.28" y1="388.90" x2="321.28" y2="390.30" stroke="#1a1a1a" stroke-width="0.6"/>
<line x1="322.08" y1="388.90" x2="322.08" y2="390.30" stroke="#1a1a1a" stroke-width="0.6"/>
<text x="306.10" y="402.50" font-size="6.2" text-anchor="middle" fill="#333" class="sm">10</text>
<text x="309.60" y="399.30" font-size="4.2" fill="#333" class="sm">3</text>
<line x1="322.80" y1="388.90" x2="322.80" y2="391.90" stroke="#1a1a1a" stroke-width="0.9"/>
<line x1="327.53" y1="388.90" x2="327.53" y2="390.30" stroke="#1a1a1a" stroke-width="0.6"/>
<line x1="330.29" y1="388.90" x2="330.29" y2="390.30" stroke="#1a1a1a" stroke-width="0.6"/>
<line x1="332.25" y1="388.90" x2="332.25" y2="390.30" stroke="#1a1a1a" stroke-width="0.6"/>
<line x1="333.77" y1="388.90" x2="333.77" y2="390.30" stroke="#1a1a1a" stroke-width="0.6"/>
<line x1="335.02" y1="388.90" x2="335.02" y2="390.30" stroke="#1a1a1a" stroke-width="0.6"/>
<line x1="336.07" y1="388.90" x2="336.07" y2="390.30" stroke="#1a1a1a" stroke-width="0.6"/>
<line x1="336.98" y1="388.90" x2="336.98" y2="390.30" stroke="#1a1a1a" stroke-width="0.6"/>
<line x1="337.78" y1="388.90" x2="337.78" y2="390.30" stroke="#1a1a1a" stroke-width="0.6"/>
<text x="321.80" y="402.50" font-size="6.2" text-anchor="middle" fill="#333" class="sm">10</text>
<text x="325.30" y="399.30" font-size="4.2" fill="#333" class="sm">4</text>
<line x1="338.50" y1="388.90" x2="338.50" y2="391.90" stroke="#1a1a1a" stroke-width="0.9"/>
<line x1="343.23" y1="388.90" x2="343.23" y2="390.30" stroke="#1a1a1a" stroke-width="0.6"/>
<text x="337.50" y="402.50" font-size="6.2" text-anchor="middle" fill="#333" class="sm">10</text>
<text x="341.00" y="399.30" font-size="4.2" fill="#333" class="sm">5</text>
<line x1="285.15" y1="388.90" x2="285.15" y2="390.30" stroke="#1a1a1a" stroke-width="0.6"/>
<line x1="286.67" y1="388.90" x2="286.67" y2="390.30" stroke="#1a1a1a" stroke-width="0.6"/>
<line x1="287.92" y1="388.90" x2="287.92" y2="390.30" stroke="#1a1a1a" stroke-width="0.6"/>
<line x1="288.97" y1="388.90" x2="288.97" y2="390.30" stroke="#1a1a1a" stroke-width="0.6"/>
<line x1="289.88" y1="388.90" x2="289.88" y2="390.30" stroke="#1a1a1a" stroke-width="0.6"/>
<line x1="290.68" y1="388.90" x2="290.68" y2="390.30" stroke="#1a1a1a" stroke-width="0.6"/>
<line x1="317.20" y1="363.20" x2="317.20" y2="375.60" stroke="#222" stroke-width="1.3"/>
<line x1="317.20" y1="370.00" x2="345.30" y2="370.00" stroke="#222" stroke-width="1.3"/>
<text x="321.10" y="366.80" font-size="7.3" fill="#333">33.4%</text>
<clipPath id="c10"><rect x="364.80" y="333.50" width="62.40" height="55.40"/></clipPath>
<path d="M365.80,388.90 L365.80,384.60 L366.58,385.30 L367.60,386.00 L368.68,385.26 L369.70,384.60 L370.45,383.66 L371.11,382.47 L371.80,381.80 L372.29,380.45 L373.35,379.11 L373.90,378.40 L374.22,377.21 L374.73,376.10 L375.29,375.43 L375.54,373.65 L375.90,372.80 L376.36,371.95 L376.39,370.73 L376.88,369.69 L376.78,367.86 L377.35,366.74 L377.32,365.37 L377.70,364.60 L378.08,363.18 L378.01,362.33 L378.20,361.30 L378.45,360.28 L378.72,358.35 L379.14,357.72 L379.40,356.30 L379.54,355.35 L379.55,354.35 L379.68,352.81 L380.15,351.66 L379.89,350.82 L380.05,349.40 L380.33,348.34 L380.37,347.59 L380.88,346.12 L380.75,344.83 L381.00,343.80 L381.47,342.37 L382.20,341.10 L382.16,340.16 L381.91,339.16 L382.31,337.63 L382.09,336.06 L381.88,334.86 L382.00,334.10 L381.87,335.42 L382.00,336.52 L382.39,337.38 L382.42,338.66 L382.40,339.70 L382.57,340.88 L382.70,341.59 L383.00,342.73 L382.64,343.86 L383.12,345.63 L383.32,345.97 L383.11,347.63 L383.07,348.42 L383.43,349.40 L383.50,350.70 L383.51,351.84 L383.54,353.37 L383.83,353.88 L383.96,355.21 L384.16,356.10 L384.13,357.26 L384.37,358.80 L384.59,360.09 L384.56,361.24 L384.57,362.31 L384.72,363.40 L384.90,364.60 L384.97,365.30 L384.97,366.97 L385.05,367.93 L385.53,369.19 L385.63,370.20 L385.33,371.45 L385.86,372.63 L385.76,374.12 L385.88,375.34 L386.19,375.82 L386.26,377.38 L386.30,378.40 L386.62,379.72 L386.78,380.92 L387.15,382.10 L387.51,383.09 L387.65,383.90 L387.90,385.30 L388.93,386.09 L390.40,386.90 L391.65,387.05 L392.90,387.20 L394.15,387.35 L395.40,387.50 L396.65,387.65 L397.90,387.80 L399.08,387.88 L400.27,387.97 L401.45,388.05 L402.63,388.13 L403.82,388.22 L405.00,388.30 L405.00,388.90 Z" fill="#e8c2ba" clip-path="url(#c10)"/>
<path d="M365.80,384.60 L366.58,385.30 L367.60,386.00 L368.68,385.26 L369.70,384.60 L370.45,383.66 L371.11,382.47 L371.80,381.80 L372.29,380.45 L373.35,379.11 L373.90,378.40 L374.22,377.21 L374.73,376.10 L375.29,375.43 L375.54,373.65 L375.90,372.80 L376.36,371.95 L376.39,370.73 L376.88,369.69 L376.78,367.86 L377.35,366.74 L377.32,365.37 L377.70,364.60 L378.08,363.18 L378.01,362.33 L378.20,361.30 L378.45,360.28 L378.72,358.35 L379.14,357.72 L379.40,356.30 L379.54,355.35 L379.55,354.35 L379.68,352.81 L380.15,351.66 L379.89,350.82 L380.05,349.40 L380.33,348.34 L380.37,347.59 L380.88,346.12 L380.75,344.83 L381.00,343.80 L381.47,342.37 L382.20,341.10 L382.16,340.16 L381.91,339.16 L382.31,337.63 L382.09,336.06 L381.88,334.86 L382.00,334.10 L381.87,335.42 L382.00,336.52 L382.39,337.38 L382.42,338.66 L382.40,339.70 L382.57,340.88 L382.70,341.59 L383.00,342.73 L382.64,343.86 L383.12,345.63 L383.32,345.97 L383.11,347.63 L383.07,348.42 L383.43,349.40 L383.50,350.70 L383.51,351.84 L383.54,353.37 L383.83,353.88 L383.96,355.21 L384.16,356.10 L384.13,357.26 L384.37,358.80 L384.59,360.09 L384.56,361.24 L384.57,362.31 L384.72,363.40 L384.90,364.60 L384.97,365.30 L384.97,366.97 L385.05,367.93 L385.53,369.19 L385.63,370.20 L385.33,371.45 L385.86,372.63 L385.76,374.12 L385.88,375.34 L386.19,375.82 L386.26,377.38 L386.30,378.40 L386.62,379.72 L386.78,380.92 L387.15,382.10 L387.51,383.09 L387.65,383.90 L387.90,385.30 L388.93,386.09 L390.40,386.90 L391.65,387.05 L392.90,387.20 L394.15,387.35 L395.40,387.50 L396.65,387.65 L397.90,387.80 L399.08,387.88 L400.27,387.97 L401.45,388.05 L402.63,388.13 L403.82,388.22 L405.00,388.30" fill="none" stroke="#7a2535" stroke-width="1.2" stroke-linejoin="round" clip-path="url(#c10)"/>
<rect x="364.80" y="333.50" width="62.40" height="55.40" fill="none" stroke="#1a1a1a" stroke-width="1.2"/>
<line x1="361.80" y1="344.40" x2="364.80" y2="344.40" stroke="#1a1a1a" stroke-width="0.9"/>
<text x="359.50" y="346.25" font-size="5.3" text-anchor="end" fill="#333" class="sm">150</text>
<line x1="361.80" y1="359.23" x2="364.80" y2="359.23" stroke="#1a1a1a" stroke-width="0.9"/>
<text x="359.50" y="361.08" font-size="5.3" text-anchor="end" fill="#333" class="sm">100</text>
<line x1="361.80" y1="374.07" x2="364.80" y2="374.07" stroke="#1a1a1a" stroke-width="0.9"/>
<text x="359.50" y="375.92" font-size="5.3" text-anchor="end" fill="#333" class="sm">50</text>
<line x1="361.80" y1="388.90" x2="364.80" y2="388.90" stroke="#1a1a1a" stroke-width="0.9"/>
<text x="359.50" y="390.75" font-size="5.3" text-anchor="end" fill="#333" class="sm">0</text>
<line x1="363.50" y1="386.78" x2="364.80" y2="386.78" stroke="#1a1a1a" stroke-width="0.6"/>
<line x1="363.50" y1="384.66" x2="364.80" y2="384.66" stroke="#1a1a1a" stroke-width="0.6"/>
<line x1="363.50" y1="382.54" x2="364.80" y2="382.54" stroke="#1a1a1a" stroke-width="0.6"/>
<line x1="363.50" y1="380.42" x2="364.80" y2="380.42" stroke="#1a1a1a" stroke-width="0.6"/>
<line x1="363.50" y1="378.30" x2="364.80" y2="378.30" stroke="#1a1a1a" stroke-width="0.6"/>
<line x1="363.50" y1="376.19" x2="364.80" y2="376.19" stroke="#1a1a1a" stroke-width="0.6"/>
<line x1="363.50" y1="371.95" x2="364.80" y2="371.95" stroke="#1a1a1a" stroke-width="0.6"/>
<line x1="363.50" y1="369.83" x2="364.80" y2="369.83" stroke="#1a1a1a" stroke-width="0.6"/>
<line x1="363.50" y1="367.71" x2="364.80" y2="367.71" stroke="#1a1a1a" stroke-width="0.6"/>
<line x1="363.50" y1="365.59" x2="364.80" y2="365.59" stroke="#1a1a1a" stroke-width="0.6"/>
<line x1="363.50" y1="363.47" x2="364.80" y2="363.47" stroke="#1a1a1a" stroke-width="0.6"/>
<line x1="363.50" y1="361.35" x2="364.80" y2="361.35" stroke="#1a1a1a" stroke-width="0.6"/>
<line x1="363.50" y1="357.11" x2="364.80" y2="357.11" stroke="#1a1a1a" stroke-width="0.6"/>
<line x1="363.50" y1="355.00" x2="364.80" y2="355.00" stroke="#1a1a1a" stroke-width="0.6"/>
<line x1="363.50" y1="352.88" x2="364.80" y2="352.88" stroke="#1a1a1a" stroke-width="0.6"/>
<line x1="363.50" y1="350.76" x2="364.80" y2="350.76" stroke="#1a1a1a" stroke-width="0.6"/>
<line x1="363.50" y1="348.64" x2="364.80" y2="348.64" stroke="#1a1a1a" stroke-width="0.6"/>
<line x1="363.50" y1="346.52" x2="364.80" y2="346.52" stroke="#1a1a1a" stroke-width="0.6"/>
<line x1="363.50" y1="342.28" x2="364.80" y2="342.28" stroke="#1a1a1a" stroke-width="0.6"/>
<line x1="363.50" y1="340.16" x2="364.80" y2="340.16" stroke="#1a1a1a" stroke-width="0.6"/>
<line x1="363.50" y1="338.04" x2="364.80" y2="338.04" stroke="#1a1a1a" stroke-width="0.6"/>
<line x1="363.50" y1="335.92" x2="364.80" y2="335.92" stroke="#1a1a1a" stroke-width="0.6"/>
<line x1="373.10" y1="388.90" x2="373.10" y2="391.90" stroke="#1a1a1a" stroke-width="0.9"/>
<line x1="377.83" y1="388.90" x2="377.83" y2="390.30" stroke="#1a1a1a" stroke-width="0.6"/>
<line x1="380.59" y1="388.90" x2="380.59" y2="390.30" stroke="#1a1a1a" stroke-width="0.6"/>
<line x1="382.55" y1="388.90" x2="382.55" y2="390.30" stroke="#1a1a1a" stroke-width="0.6"/>
<line x1="384.07" y1="388.90" x2="384.07" y2="390.30" stroke="#1a1a1a" stroke-width="0.6"/>
<line x1="385.32" y1="388.90" x2="385.32" y2="390.30" stroke="#1a1a1a" stroke-width="0.6"/>
<line x1="386.37" y1="388.90" x2="386.37" y2="390.30" stroke="#1a1a1a" stroke-width="0.6"/>
<line x1="387.28" y1="388.90" x2="387.28" y2="390.30" stroke="#1a1a1a" stroke-width="0.6"/>
<line x1="388.08" y1="388.90" x2="388.08" y2="390.30" stroke="#1a1a1a" stroke-width="0.6"/>
<text x="372.10" y="402.50" font-size="6.2" text-anchor="middle" fill="#333" class="sm">10</text>
<text x="375.60" y="399.30" font-size="4.2" fill="#333" class="sm">2</text>
<line x1="388.80" y1="388.90" x2="388.80" y2="391.90" stroke="#1a1a1a" stroke-width="0.9"/>
<line x1="393.53" y1="388.90" x2="393.53" y2="390.30" stroke="#1a1a1a" stroke-width="0.6"/>
<line x1="396.29" y1="388.90" x2="396.29" y2="390.30" stroke="#1a1a1a" stroke-width="0.6"/>
<line x1="398.25" y1="388.90" x2="398.25" y2="390.30" stroke="#1a1a1a" stroke-width="0.6"/>
<line x1="399.77" y1="388.90" x2="399.77" y2="390.30" stroke="#1a1a1a" stroke-width="0.6"/>
<line x1="401.02" y1="388.90" x2="401.02" y2="390.30" stroke="#1a1a1a" stroke-width="0.6"/>
<line x1="402.07" y1="388.90" x2="402.07" y2="390.30" stroke="#1a1a1a" stroke-width="0.6"/>
<line x1="402.98" y1="388.90" x2="402.98" y2="390.30" stroke="#1a1a1a" stroke-width="0.6"/>
<line x1="403.78" y1="388.90" x2="403.78" y2="390.30" stroke="#1a1a1a" stroke-width="0.6"/>
<text x="387.80" y="402.50" font-size="6.2" text-anchor="middle" fill="#333" class="sm">10</text>
<text x="391.30" y="399.30" font-size="4.2" fill="#333" class="sm">3</text>
<line x1="404.50" y1="388.90" x2="404.50" y2="391.90" stroke="#1a1a1a" stroke-width="0.9"/>
<line x1="409.23" y1="388.90" x2="409.23" y2="390.30" stroke="#1a1a1a" stroke-width="0.6"/>
<line x1="411.99" y1="388.90" x2="411.99" y2="390.30" stroke="#1a1a1a" stroke-width="0.6"/>
<line x1="413.95" y1="388.90" x2="413.95" y2="390.30" stroke="#1a1a1a" stroke-width="0.6"/>
<line x1="415.47" y1="388.90" x2="415.47" y2="390.30" stroke="#1a1a1a" stroke-width="0.6"/>
<line x1="416.72" y1="388.90" x2="416.72" y2="390.30" stroke="#1a1a1a" stroke-width="0.6"/>
<line x1="417.77" y1="388.90" x2="417.77" y2="390.30" stroke="#1a1a1a" stroke-width="0.6"/>
<line x1="418.68" y1="388.90" x2="418.68" y2="390.30" stroke="#1a1a1a" stroke-width="0.6"/>
<line x1="419.48" y1="388.90" x2="419.48" y2="390.30" stroke="#1a1a1a" stroke-width="0.6"/>
<text x="403.50" y="402.50" font-size="6.2" text-anchor="middle" fill="#333" class="sm">10</text>
<text x="407.00" y="399.30" font-size="4.2" fill="#333" class="sm">4</text>
<line x1="420.20" y1="388.90" x2="420.20" y2="391.90" stroke="#1a1a1a" stroke-width="0.9"/>
<line x1="424.93" y1="388.90" x2="424.93" y2="390.30" stroke="#1a1a1a" stroke-width="0.6"/>
<text x="419.20" y="402.50" font-size="6.2" text-anchor="middle" fill="#333" class="sm">10</text>
<text x="422.70" y="399.30" font-size="4.2" fill="#333" class="sm">5</text>
<line x1="366.85" y1="388.90" x2="366.85" y2="390.30" stroke="#1a1a1a" stroke-width="0.6"/>
<line x1="368.37" y1="388.90" x2="368.37" y2="390.30" stroke="#1a1a1a" stroke-width="0.6"/>
<line x1="369.62" y1="388.90" x2="369.62" y2="390.30" stroke="#1a1a1a" stroke-width="0.6"/>
<line x1="370.67" y1="388.90" x2="370.67" y2="390.30" stroke="#1a1a1a" stroke-width="0.6"/>
<line x1="371.58" y1="388.90" x2="371.58" y2="390.30" stroke="#1a1a1a" stroke-width="0.6"/>
<line x1="372.38" y1="388.90" x2="372.38" y2="390.30" stroke="#1a1a1a" stroke-width="0.6"/>
<line x1="397.90" y1="362.10" x2="397.90" y2="374.50" stroke="#222" stroke-width="1.3"/>
<line x1="397.90" y1="368.40" x2="427.20" y2="368.40" stroke="#222" stroke-width="1.3"/>
<text x="403.60" y="365.20" font-size="7.3" fill="#333">1.7%</text>
<clipPath id="c11"><rect x="446.90" y="333.50" width="61.80" height="55.40"/></clipPath>
<path d="M447.90,388.90 L447.90,386.70 L448.69,386.08 L450.00,385.30 L451.29,386.52 L452.10,386.00 L453.00,385.36 L454.20,384.60 L454.72,383.53 L455.92,383.20 L456.20,381.10 L457.11,380.83 L456.53,378.41 L457.97,377.92 L457.48,376.93 L458.30,375.60 L459.10,373.90 L458.73,372.61 L459.74,371.48 L459.22,370.06 L459.35,368.75 L459.53,368.54 L460.40,367.30 L460.34,365.84 L460.84,364.52 L461.20,363.18 L461.10,362.20 L461.55,361.14 L461.20,360.84 L461.95,358.52 L461.80,357.60 L462.14,356.41 L461.55,354.65 L462.39,353.07 L461.82,352.36 L462.47,350.65 L463.17,351.33 L463.08,349.87 L462.90,348.00 L463.77,347.61 L463.61,345.25 L464.03,345.13 L464.50,343.80 L465.07,343.15 L464.38,340.84 L464.93,339.89 L465.05,339.75 L465.45,338.33 L465.60,336.90 L466.12,335.33 L465.50,333.90 L465.86,335.99 L466.09,336.81 L466.58,337.25 L466.29,338.67 L466.80,339.70 L466.72,340.67 L466.56,342.97 L467.79,342.44 L467.09,344.02 L467.38,345.24 L467.57,347.00 L467.90,348.00 L467.69,348.48 L468.49,349.80 L468.76,350.98 L469.15,352.06 L468.74,354.68 L469.32,355.74 L469.36,357.21 L469.30,357.60 L469.07,359.38 L470.05,359.05 L469.81,361.63 L470.25,362.96 L469.69,363.54 L469.88,363.95 L470.66,364.86 L470.14,367.12 L470.62,367.68 L470.60,368.70 L471.27,370.74 L471.18,371.07 L471.08,372.28 L471.41,372.76 L472.30,374.20 L473.07,374.56 L474.13,376.98 L474.80,377.00 L476.34,377.31 L477.60,378.40 L479.40,378.91 L480.30,377.70 L480.65,377.09 L481.40,375.60 L482.36,377.50 L482.31,378.06 L482.60,378.27 L483.10,379.80 L483.76,379.58 L485.20,378.40 L485.64,377.81 L487.20,377.00 L487.76,378.68 L488.80,379.10 L489.94,380.57 L490.90,381.10 L492.90,381.80 L493.64,381.68 L495.00,383.20 L495.57,384.64 L497.10,385.30 L498.17,385.55 L499.30,387.10 L500.40,388.00 L500.40,388.90 Z" fill="#e8c2ba" clip-path="url(#c11)"/>
<path d="M447.90,386.70 L448.69,386.08 L450.00,385.30 L451.29,386.52 L452.10,386.00 L453.00,385.36 L454.20,384.60 L454.72,383.53 L455.92,383.20 L456.20,381.10 L457.11,380.83 L456.53,378.41 L457.97,377.92 L457.48,376.93 L458.30,375.60 L459.10,373.90 L458.73,372.61 L459.74,371.48 L459.22,370.06 L459.35,368.75 L459.53,368.54 L460.40,367.30 L460.34,365.84 L460.84,364.52 L461.20,363.18 L461.10,362.20 L461.55,361.14 L461.20,360.84 L461.95,358.52 L461.80,357.60 L462.14,356.41 L461.55,354.65 L462.39,353.07 L461.82,352.36 L462.47,350.65 L463.17,351.33 L463.08,349.87 L462.90,348.00 L463.77,347.61 L463.61,345.25 L464.03,345.13 L464.50,343.80 L465.07,343.15 L464.38,340.84 L464.93,339.89 L465.05,339.75 L465.45,338.33 L465.60,336.90 L466.12,335.33 L465.50,333.90 L465.86,335.99 L466.09,336.81 L466.58,337.25 L466.29,338.67 L466.80,339.70 L466.72,340.67 L466.56,342.97 L467.79,342.44 L467.09,344.02 L467.38,345.24 L467.57,347.00 L467.90,348.00 L467.69,348.48 L468.49,349.80 L468.76,350.98 L469.15,352.06 L468.74,354.68 L469.32,355.74 L469.36,357.21 L469.30,357.60 L469.07,359.38 L470.05,359.05 L469.81,361.63 L470.25,362.96 L469.69,363.54 L469.88,363.95 L470.66,364.86 L470.14,367.12 L470.62,367.68 L470.60,368.70 L471.27,370.74 L471.18,371.07 L471.08,372.28 L471.41,372.76 L472.30,374.20 L473.07,374.56 L474.13,376.98 L474.80,377.00 L476.34,377.31 L477.60,378.40 L479.40,378.91 L480.30,377.70 L480.65,377.09 L481.40,375.60 L482.36,377.50 L482.31,378.06 L482.60,378.27 L483.10,379.80 L483.76,379.58 L485.20,378.40 L485.64,377.81 L487.20,377.00 L487.76,378.68 L488.80,379.10 L489.94,380.57 L490.90,381.10 L492.90,381.80 L493.64,381.68 L495.00,383.20 L495.57,384.64 L497.10,385.30 L498.17,385.55 L499.30,387.10 L500.40,388.00" fill="none" stroke="#7a2535" stroke-width="1.45" stroke-linejoin="round" clip-path="url(#c11)"/>
<rect x="446.90" y="333.50" width="61.80" height="55.40" fill="none" stroke="#1a1a1a" stroke-width="1.2"/>
<line x1="443.90" y1="334.30" x2="446.90" y2="334.30" stroke="#1a1a1a" stroke-width="0.9"/>
<text x="441.60" y="336.15" font-size="5.3" text-anchor="end" fill="#333" class="sm">125</text>
<line x1="443.90" y1="345.22" x2="446.90" y2="345.22" stroke="#1a1a1a" stroke-width="0.9"/>
<text x="441.60" y="347.07" font-size="5.3" text-anchor="end" fill="#333" class="sm">100</text>
<line x1="443.90" y1="356.14" x2="446.90" y2="356.14" stroke="#1a1a1a" stroke-width="0.9"/>
<text x="441.60" y="357.99" font-size="5.3" text-anchor="end" fill="#333" class="sm">75</text>
<line x1="443.90" y1="367.06" x2="446.90" y2="367.06" stroke="#1a1a1a" stroke-width="0.9"/>
<text x="441.60" y="368.91" font-size="5.3" text-anchor="end" fill="#333" class="sm">50</text>
<line x1="443.90" y1="377.98" x2="446.90" y2="377.98" stroke="#1a1a1a" stroke-width="0.9"/>
<text x="441.60" y="379.83" font-size="5.3" text-anchor="end" fill="#333" class="sm">25</text>
<line x1="443.90" y1="388.90" x2="446.90" y2="388.90" stroke="#1a1a1a" stroke-width="0.9"/>
<text x="441.60" y="390.75" font-size="5.3" text-anchor="end" fill="#333" class="sm">0</text>
<line x1="445.60" y1="386.72" x2="446.90" y2="386.72" stroke="#1a1a1a" stroke-width="0.6"/>
<line x1="445.60" y1="384.53" x2="446.90" y2="384.53" stroke="#1a1a1a" stroke-width="0.6"/>
<line x1="445.60" y1="382.35" x2="446.90" y2="382.35" stroke="#1a1a1a" stroke-width="0.6"/>
<line x1="445.60" y1="380.16" x2="446.90" y2="380.16" stroke="#1a1a1a" stroke-width="0.6"/>
<line x1="445.60" y1="375.80" x2="446.90" y2="375.80" stroke="#1a1a1a" stroke-width="0.6"/>
<line x1="445.60" y1="373.61" x2="446.90" y2="373.61" stroke="#1a1a1a" stroke-width="0.6"/>
<line x1="445.60" y1="371.43" x2="446.90" y2="371.43" stroke="#1a1a1a" stroke-width="0.6"/>
<line x1="445.60" y1="369.24" x2="446.90" y2="369.24" stroke="#1a1a1a" stroke-width="0.6"/>
<line x1="445.60" y1="364.88" x2="446.90" y2="364.88" stroke="#1a1a1a" stroke-width="0.6"/>
<line x1="445.60" y1="362.69" x2="446.90" y2="362.69" stroke="#1a1a1a" stroke-width="0.6"/>
<line x1="445.60" y1="360.51" x2="446.90" y2="360.51" stroke="#1a1a1a" stroke-width="0.6"/>
<line x1="445.60" y1="358.32" x2="446.90" y2="358.32" stroke="#1a1a1a" stroke-width="0.6"/>
<line x1="445.60" y1="353.96" x2="446.90" y2="353.96" stroke="#1a1a1a" stroke-width="0.6"/>
<line x1="445.60" y1="351.77" x2="446.90" y2="351.77" stroke="#1a1a1a" stroke-width="0.6"/>
<line x1="445.60" y1="349.59" x2="446.90" y2="349.59" stroke="#1a1a1a" stroke-width="0.6"/>
<line x1="445.60" y1="347.40" x2="446.90" y2="347.40" stroke="#1a1a1a" stroke-width="0.6"/>
<line x1="445.60" y1="343.04" x2="446.90" y2="343.04" stroke="#1a1a1a" stroke-width="0.6"/>
<line x1="445.60" y1="340.85" x2="446.90" y2="340.85" stroke="#1a1a1a" stroke-width="0.6"/>
<line x1="445.60" y1="338.67" x2="446.90" y2="338.67" stroke="#1a1a1a" stroke-width="0.6"/>
<line x1="445.60" y1="336.48" x2="446.90" y2="336.48" stroke="#1a1a1a" stroke-width="0.6"/>
<line x1="455.20" y1="388.90" x2="455.20" y2="391.90" stroke="#1a1a1a" stroke-width="0.9"/>
<line x1="459.93" y1="388.90" x2="459.93" y2="390.30" stroke="#1a1a1a" stroke-width="0.6"/>
<line x1="462.69" y1="388.90" x2="462.69" y2="390.30" stroke="#1a1a1a" stroke-width="0.6"/>
<line x1="464.65" y1="388.90" x2="464.65" y2="390.30" stroke="#1a1a1a" stroke-width="0.6"/>
<line x1="466.17" y1="388.90" x2="466.17" y2="390.30" stroke="#1a1a1a" stroke-width="0.6"/>
<line x1="467.42" y1="388.90" x2="467.42" y2="390.30" stroke="#1a1a1a" stroke-width="0.6"/>
<line x1="468.47" y1="388.90" x2="468.47" y2="390.30" stroke="#1a1a1a" stroke-width="0.6"/>
<line x1="469.38" y1="388.90" x2="469.38" y2="390.30" stroke="#1a1a1a" stroke-width="0.6"/>
<line x1="470.18" y1="388.90" x2="470.18" y2="390.30" stroke="#1a1a1a" stroke-width="0.6"/>
<text x="454.20" y="402.50" font-size="6.2" text-anchor="middle" fill="#333" class="sm">10</text>
<text x="457.70" y="399.30" font-size="4.2" fill="#333" class="sm">2</text>
<line x1="470.90" y1="388.90" x2="470.90" y2="391.90" stroke="#1a1a1a" stroke-width="0.9"/>
<line x1="475.63" y1="388.90" x2="475.63" y2="390.30" stroke="#1a1a1a" stroke-width="0.6"/>
<line x1="478.39" y1="388.90" x2="478.39" y2="390.30" stroke="#1a1a1a" stroke-width="0.6"/>
<line x1="480.35" y1="388.90" x2="480.35" y2="390.30" stroke="#1a1a1a" stroke-width="0.6"/>
<line x1="481.87" y1="388.90" x2="481.87" y2="390.30" stroke="#1a1a1a" stroke-width="0.6"/>
<line x1="483.12" y1="388.90" x2="483.12" y2="390.30" stroke="#1a1a1a" stroke-width="0.6"/>
<line x1="484.17" y1="388.90" x2="484.17" y2="390.30" stroke="#1a1a1a" stroke-width="0.6"/>
<line x1="485.08" y1="388.90" x2="485.08" y2="390.30" stroke="#1a1a1a" stroke-width="0.6"/>
<line x1="485.88" y1="388.90" x2="485.88" y2="390.30" stroke="#1a1a1a" stroke-width="0.6"/>
<text x="469.90" y="402.50" font-size="6.2" text-anchor="middle" fill="#333" class="sm">10</text>
<text x="473.40" y="399.30" font-size="4.2" fill="#333" class="sm">3</text>
<line x1="486.60" y1="388.90" x2="486.60" y2="391.90" stroke="#1a1a1a" stroke-width="0.9"/>
<line x1="491.33" y1="388.90" x2="491.33" y2="390.30" stroke="#1a1a1a" stroke-width="0.6"/>
<line x1="494.09" y1="388.90" x2="494.09" y2="390.30" stroke="#1a1a1a" stroke-width="0.6"/>
<line x1="496.05" y1="388.90" x2="496.05" y2="390.30" stroke="#1a1a1a" stroke-width="0.6"/>
<line x1="497.57" y1="388.90" x2="497.57" y2="390.30" stroke="#1a1a1a" stroke-width="0.6"/>
<line x1="498.82" y1="388.90" x2="498.82" y2="390.30" stroke="#1a1a1a" stroke-width="0.6"/>
<line x1="499.87" y1="388.90" x2="499.87" y2="390.30" stroke="#1a1a1a" stroke-width="0.6"/>
<line x1="500.78" y1="388.90" x2="500.78" y2="390.30" stroke="#1a1a1a" stroke-width="0.6"/>
<line x1="501.58" y1="388.90" x2="501.58" y2="390.30" stroke="#1a1a1a" stroke-width="0.6"/>
<text x="485.60" y="402.50" font-size="6.2" text-anchor="middle" fill="#333" class="sm">10</text>
<text x="489.10" y="399.30" font-size="4.2" fill="#333" class="sm">4</text>
<line x1="502.30" y1="388.90" x2="502.30" y2="391.90" stroke="#1a1a1a" stroke-width="0.9"/>
<line x1="507.03" y1="388.90" x2="507.03" y2="390.30" stroke="#1a1a1a" stroke-width="0.6"/>
<text x="501.30" y="402.50" font-size="6.2" text-anchor="middle" fill="#333" class="sm">10</text>
<text x="504.80" y="399.30" font-size="4.2" fill="#333" class="sm">5</text>
<line x1="448.95" y1="388.90" x2="448.95" y2="390.30" stroke="#1a1a1a" stroke-width="0.6"/>
<line x1="450.47" y1="388.90" x2="450.47" y2="390.30" stroke="#1a1a1a" stroke-width="0.6"/>
<line x1="451.72" y1="388.90" x2="451.72" y2="390.30" stroke="#1a1a1a" stroke-width="0.6"/>
<line x1="452.77" y1="388.90" x2="452.77" y2="390.30" stroke="#1a1a1a" stroke-width="0.6"/>
<line x1="453.68" y1="388.90" x2="453.68" y2="390.30" stroke="#1a1a1a" stroke-width="0.6"/>
<line x1="454.48" y1="388.90" x2="454.48" y2="390.30" stroke="#1a1a1a" stroke-width="0.6"/>
<line x1="480.30" y1="362.10" x2="480.30" y2="375.60" stroke="#222" stroke-width="1.3"/>
<line x1="480.30" y1="368.70" x2="508.70" y2="368.70" stroke="#222" stroke-width="1.3"/>
<text x="484.20" y="365.50" font-size="7.3" fill="#333">26.7%</text>
<text x="65.85" y="236.10" font-size="9.5" text-anchor="middle" fill="#222">BI836847</text>
<text x="146.60" y="236.10" font-size="9.5" text-anchor="middle" fill="#222">BI836858</text>
<text x="233.20" y="236.10" font-size="9.5" text-anchor="middle" fill="#222">BI836847</text>
<text x="314.85" y="236.10" font-size="9.5" text-anchor="middle" fill="#222">BI836858</text>
<text x="395.85" y="236.10" font-size="9.5" text-anchor="middle" fill="#222">BI836847</text>
<text x="477.25" y="236.10" font-size="9.5" text-anchor="middle" fill="#222">BI836858</text>
<text x="271.40" y="323.40" font-size="9.5" text-anchor="middle" fill="#222">AML blast 1</text>
<text x="271.60" y="415.60" font-size="9.5" text-anchor="middle" fill="#222">AML blast 2</text>
<text x="271.80" y="440.40" font-size="9.5" text-anchor="middle" fill="#222">CD107a</text>
<line x1="34.30" y1="422.90" x2="505.00" y2="422.90" stroke="#111" stroke-width="1.6"/>
<path d="M503.3,418.6 L513.5,422.9 L503.3,427.3 L505.6,422.9 Z" fill="#111"/>
<rect x="0.5" y="0.5" width="519" height="448" fill="none" stroke="#1a1a1a" stroke-width="1.2"/>
</svg>
</body></html>
